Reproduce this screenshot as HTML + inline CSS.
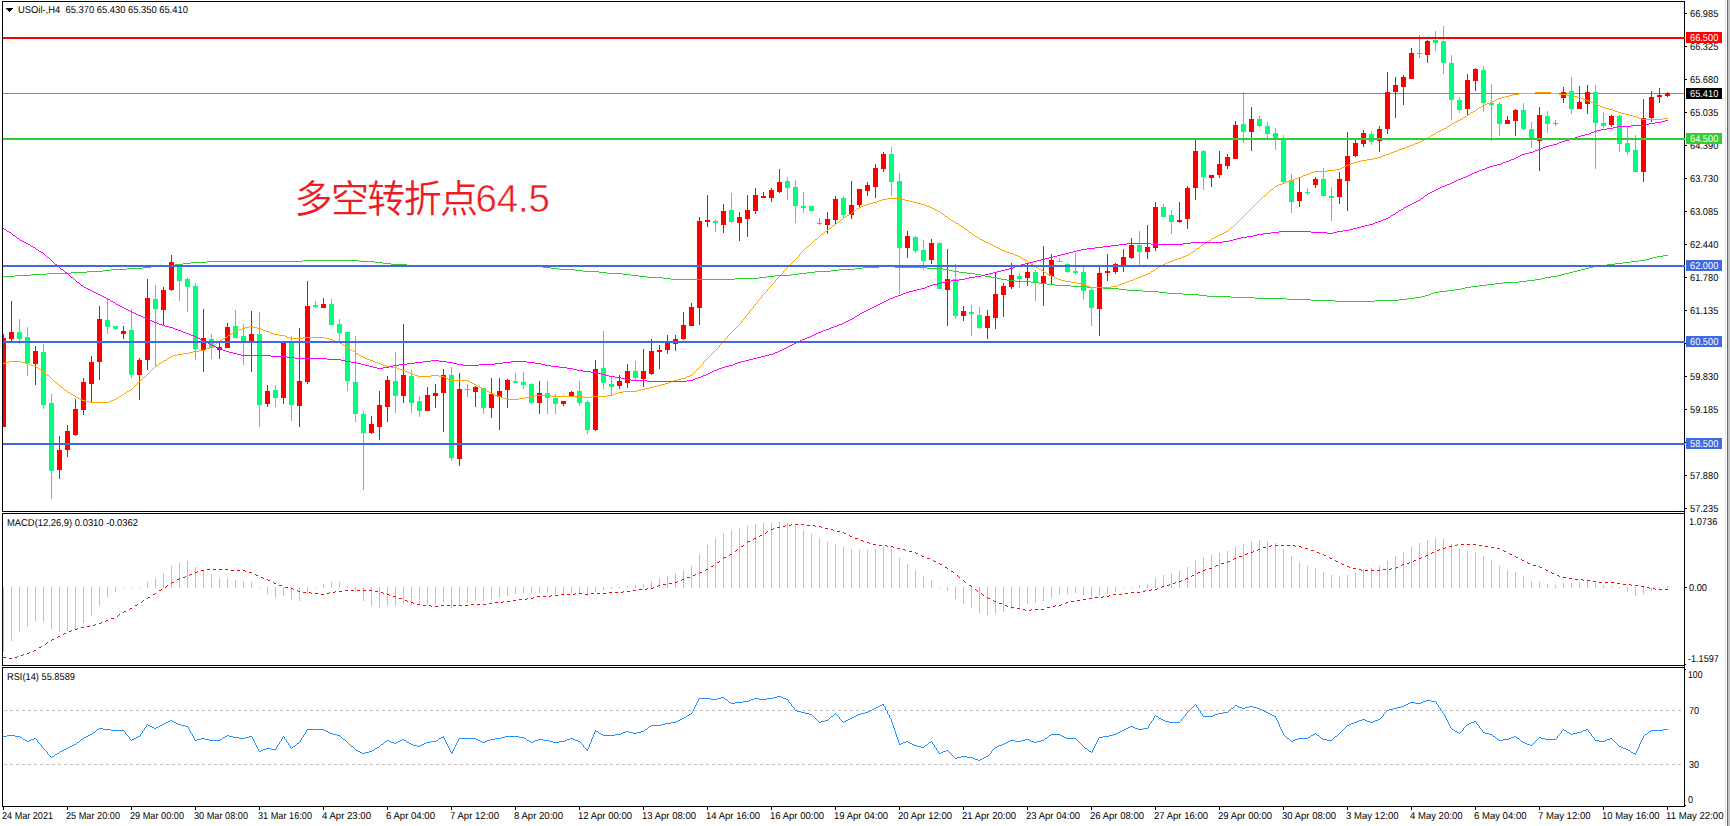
<!DOCTYPE html>
<html lang="zh"><head><meta charset="utf-8"><title>USOil H4</title>
<style>
html,body{margin:0;padding:0;background:#fff;}
body{width:1730px;height:826px;overflow:hidden;position:relative;font-family:"Liberation Sans","Noto Sans CJK SC",sans-serif;}
#c{position:absolute;left:0;top:0;width:1730px;height:826px;}
svg{position:absolute;left:0;top:0;display:block;}
.t{position:absolute;white-space:pre;font-size:10px;line-height:11px;height:11px;color:#000;transform-origin:0 0;text-rendering:geometricPrecision;}
.ax{left:1690px;}
.bx{position:absolute;left:1686px;width:36px;height:11px;}
.bx .t{color:#fff;left:4px;top:0;}
.tm{top:810px;}
#note{position:absolute;left:294.5px;top:172px;font-family:"Liberation Sans","Noto Sans CJK SC",sans-serif;font-weight:350;font-size:38px;line-height:54px;color:#ed1c24;white-space:pre;letter-spacing:-1.6px;}
#note span{font-weight:400;-webkit-text-stroke:0.5px #fff;font-size:38.5px;letter-spacing:-0.2px;margin-left:-1px;}
</style></head><body><div id="c">
<svg width="1730" height="826" viewBox="0 0 1730 826" shape-rendering="crispEdges">
<rect x="0" y="0" width="1730" height="826" fill="#fff"/>
<rect x="1725" y="0" width="1" height="826" fill="#e3e3e3"/>
<rect x="1727" y="0" width="1" height="826" fill="#696969"/>
<rect x="1728" y="0" width="2" height="826" fill="#c3c3c3"/>
<rect x="3" y="93" width="1681" height="1" fill="#778899"/>
<g>
<rect x="3" y="334" width="1" height="93" fill="#ff0000"/>
<rect x="3" y="338" width="3" height="89" fill="#ff0000"/>
<rect x="11" y="301" width="1" height="40" fill="#ff0000"/>
<rect x="9" y="332" width="5" height="7" fill="#ff0000"/>
<rect x="19" y="319" width="1" height="25" fill="#00ff7f"/>
<rect x="17" y="332" width="5" height="7" fill="#00ff7f"/>
<rect x="27" y="327" width="1" height="49" fill="#00ff7f"/>
<rect x="25" y="337" width="5" height="26" fill="#00ff7f"/>
<rect x="35" y="346" width="1" height="39" fill="#ff0000"/>
<rect x="33" y="351" width="5" height="13" fill="#ff0000"/>
<rect x="43" y="344" width="1" height="65" fill="#00ff7f"/>
<rect x="41" y="352" width="5" height="53" fill="#00ff7f"/>
<rect x="51" y="394" width="1" height="105" fill="#00ff7f"/>
<rect x="49" y="403" width="5" height="68" fill="#00ff7f"/>
<rect x="59" y="436" width="1" height="43" fill="#ff0000"/>
<rect x="57" y="450" width="5" height="20" fill="#ff0000"/>
<rect x="67" y="425" width="1" height="32" fill="#ff0000"/>
<rect x="65" y="431" width="5" height="19" fill="#ff0000"/>
<rect x="75" y="399" width="1" height="37" fill="#ff0000"/>
<rect x="73" y="409" width="5" height="26" fill="#ff0000"/>
<rect x="83" y="378" width="1" height="37" fill="#ff0000"/>
<rect x="81" y="382" width="5" height="28" fill="#ff0000"/>
<rect x="91" y="356" width="1" height="46" fill="#ff0000"/>
<rect x="89" y="362" width="5" height="22" fill="#ff0000"/>
<rect x="99" y="306" width="1" height="74" fill="#ff0000"/>
<rect x="97" y="319" width="5" height="43" fill="#ff0000"/>
<rect x="107" y="299" width="1" height="35" fill="#00ff7f"/>
<rect x="105" y="320" width="5" height="7" fill="#00ff7f"/>
<rect x="115" y="326" width="1" height="4" fill="#00ff7f"/>
<rect x="113" y="326" width="5" height="3" fill="#00ff7f"/>
<rect x="123" y="326" width="1" height="13" fill="#ff0000"/>
<rect x="121" y="331" width="5" height="3" fill="#ff0000"/>
<rect x="131" y="309" width="1" height="69" fill="#00ff7f"/>
<rect x="129" y="330" width="5" height="45" fill="#00ff7f"/>
<rect x="139" y="358" width="1" height="42" fill="#ff0000"/>
<rect x="137" y="360" width="5" height="15" fill="#ff0000"/>
<rect x="147" y="279" width="1" height="91" fill="#ff0000"/>
<rect x="145" y="298" width="5" height="62" fill="#ff0000"/>
<rect x="155" y="285" width="1" height="82" fill="#00ff7f"/>
<rect x="153" y="299" width="5" height="10" fill="#00ff7f"/>
<rect x="163" y="287" width="1" height="38" fill="#ff0000"/>
<rect x="161" y="290" width="5" height="20" fill="#ff0000"/>
<rect x="171" y="255" width="1" height="36" fill="#ff0000"/>
<rect x="169" y="262" width="5" height="28" fill="#ff0000"/>
<rect x="179" y="264" width="1" height="37" fill="#00ff7f"/>
<rect x="177" y="264" width="5" height="17" fill="#00ff7f"/>
<rect x="187" y="277" width="1" height="35" fill="#00ff7f"/>
<rect x="185" y="279" width="5" height="8" fill="#00ff7f"/>
<rect x="195" y="283" width="1" height="77" fill="#00ff7f"/>
<rect x="193" y="286" width="5" height="63" fill="#00ff7f"/>
<rect x="203" y="309" width="1" height="63" fill="#ff0000"/>
<rect x="201" y="338" width="5" height="12" fill="#ff0000"/>
<rect x="211" y="334" width="1" height="25" fill="#00ff7f"/>
<rect x="209" y="339" width="5" height="9" fill="#00ff7f"/>
<rect x="219" y="343" width="1" height="16" fill="#ff0000"/>
<rect x="217" y="347" width="5" height="3" fill="#ff0000"/>
<rect x="227" y="323" width="1" height="25" fill="#ff0000"/>
<rect x="225" y="327" width="5" height="21" fill="#ff0000"/>
<rect x="235" y="310" width="1" height="28" fill="#00ff7f"/>
<rect x="233" y="326" width="5" height="12" fill="#00ff7f"/>
<rect x="243" y="324" width="1" height="41" fill="#00ff7f"/>
<rect x="241" y="336" width="5" height="6" fill="#00ff7f"/>
<rect x="251" y="311" width="1" height="61" fill="#ff0000"/>
<rect x="249" y="334" width="5" height="8" fill="#ff0000"/>
<rect x="259" y="312" width="1" height="115" fill="#00ff7f"/>
<rect x="257" y="334" width="5" height="71" fill="#00ff7f"/>
<rect x="267" y="385" width="1" height="22" fill="#ff0000"/>
<rect x="265" y="391" width="5" height="13" fill="#ff0000"/>
<rect x="275" y="385" width="1" height="22" fill="#00ff7f"/>
<rect x="273" y="390" width="5" height="8" fill="#00ff7f"/>
<rect x="283" y="343" width="1" height="61" fill="#ff0000"/>
<rect x="281" y="343" width="5" height="55" fill="#ff0000"/>
<rect x="291" y="336" width="1" height="85" fill="#00ff7f"/>
<rect x="289" y="343" width="5" height="62" fill="#00ff7f"/>
<rect x="299" y="328" width="1" height="99" fill="#ff0000"/>
<rect x="297" y="381" width="5" height="25" fill="#ff0000"/>
<rect x="307" y="281" width="1" height="103" fill="#ff0000"/>
<rect x="305" y="306" width="5" height="76" fill="#ff0000"/>
<rect x="315" y="301" width="1" height="7" fill="#00ff7f"/>
<rect x="313" y="305" width="5" height="2" fill="#00ff7f"/>
<rect x="323" y="298" width="1" height="10" fill="#ff0000"/>
<rect x="321" y="304" width="5" height="4" fill="#ff0000"/>
<rect x="331" y="299" width="1" height="26" fill="#00ff7f"/>
<rect x="329" y="304" width="5" height="21" fill="#00ff7f"/>
<rect x="339" y="319" width="1" height="22" fill="#00ff7f"/>
<rect x="337" y="324" width="5" height="9" fill="#00ff7f"/>
<rect x="347" y="332" width="1" height="59" fill="#00ff7f"/>
<rect x="345" y="332" width="5" height="49" fill="#00ff7f"/>
<rect x="355" y="336" width="1" height="86" fill="#00ff7f"/>
<rect x="353" y="382" width="5" height="32" fill="#00ff7f"/>
<rect x="363" y="411" width="1" height="79" fill="#00ff7f"/>
<rect x="361" y="414" width="5" height="19" fill="#00ff7f"/>
<rect x="371" y="416" width="1" height="18" fill="#ff0000"/>
<rect x="369" y="424" width="5" height="9" fill="#ff0000"/>
<rect x="379" y="391" width="1" height="49" fill="#ff0000"/>
<rect x="377" y="405" width="5" height="22" fill="#ff0000"/>
<rect x="387" y="376" width="1" height="46" fill="#ff0000"/>
<rect x="385" y="380" width="5" height="27" fill="#ff0000"/>
<rect x="395" y="352" width="1" height="61" fill="#00ff7f"/>
<rect x="393" y="381" width="5" height="15" fill="#00ff7f"/>
<rect x="403" y="324" width="1" height="79" fill="#ff0000"/>
<rect x="401" y="375" width="5" height="21" fill="#ff0000"/>
<rect x="411" y="370" width="1" height="43" fill="#00ff7f"/>
<rect x="409" y="376" width="5" height="27" fill="#00ff7f"/>
<rect x="419" y="396" width="1" height="21" fill="#00ff7f"/>
<rect x="417" y="401" width="5" height="10" fill="#00ff7f"/>
<rect x="427" y="387" width="1" height="24" fill="#ff0000"/>
<rect x="425" y="395" width="5" height="16" fill="#ff0000"/>
<rect x="435" y="384" width="1" height="24" fill="#ff0000"/>
<rect x="433" y="393" width="5" height="3" fill="#ff0000"/>
<rect x="443" y="369" width="1" height="63" fill="#ff0000"/>
<rect x="441" y="375" width="5" height="18" fill="#ff0000"/>
<rect x="451" y="367" width="1" height="94" fill="#00ff7f"/>
<rect x="449" y="375" width="5" height="83" fill="#00ff7f"/>
<rect x="459" y="373" width="1" height="93" fill="#ff0000"/>
<rect x="457" y="389" width="5" height="70" fill="#ff0000"/>
<rect x="467" y="384" width="1" height="13" fill="#00ff00"/>
<rect x="465" y="389" width="5" height="1" fill="#00ff00"/>
<rect x="475" y="386" width="1" height="21" fill="#ff0000"/>
<rect x="473" y="387" width="5" height="5" fill="#ff0000"/>
<rect x="483" y="388" width="1" height="26" fill="#00ff7f"/>
<rect x="481" y="388" width="5" height="20" fill="#00ff7f"/>
<rect x="491" y="378" width="1" height="40" fill="#ff0000"/>
<rect x="489" y="394" width="5" height="14" fill="#ff0000"/>
<rect x="499" y="378" width="1" height="52" fill="#ff0000"/>
<rect x="497" y="391" width="5" height="6" fill="#ff0000"/>
<rect x="507" y="379" width="1" height="29" fill="#ff0000"/>
<rect x="505" y="380" width="5" height="10" fill="#ff0000"/>
<rect x="515" y="373" width="1" height="10" fill="#00ff7f"/>
<rect x="513" y="381" width="5" height="2" fill="#00ff7f"/>
<rect x="523" y="372" width="1" height="17" fill="#00ff7f"/>
<rect x="521" y="382" width="5" height="3" fill="#00ff7f"/>
<rect x="531" y="383" width="1" height="21" fill="#00ff7f"/>
<rect x="529" y="384" width="5" height="19" fill="#00ff7f"/>
<rect x="539" y="381" width="1" height="33" fill="#ff0000"/>
<rect x="537" y="393" width="5" height="10" fill="#ff0000"/>
<rect x="547" y="381" width="1" height="33" fill="#00ff7f"/>
<rect x="545" y="393" width="5" height="5" fill="#00ff7f"/>
<rect x="555" y="394" width="1" height="20" fill="#00ff7f"/>
<rect x="553" y="398" width="5" height="6" fill="#00ff7f"/>
<rect x="563" y="401" width="1" height="5" fill="#ff0000"/>
<rect x="561" y="401" width="5" height="3" fill="#ff0000"/>
<rect x="571" y="391" width="1" height="5" fill="#ff0000"/>
<rect x="569" y="392" width="5" height="4" fill="#ff0000"/>
<rect x="579" y="381" width="1" height="25" fill="#00ff7f"/>
<rect x="577" y="391" width="5" height="12" fill="#00ff7f"/>
<rect x="587" y="400" width="1" height="34" fill="#00ff7f"/>
<rect x="585" y="402" width="5" height="28" fill="#00ff7f"/>
<rect x="595" y="360" width="1" height="71" fill="#ff0000"/>
<rect x="593" y="369" width="5" height="61" fill="#ff0000"/>
<rect x="603" y="331" width="1" height="58" fill="#00ff7f"/>
<rect x="601" y="368" width="5" height="15" fill="#00ff7f"/>
<rect x="611" y="377" width="1" height="19" fill="#00ff7f"/>
<rect x="609" y="384" width="5" height="3" fill="#00ff7f"/>
<rect x="619" y="375" width="1" height="14" fill="#ff0000"/>
<rect x="617" y="381" width="5" height="5" fill="#ff0000"/>
<rect x="627" y="364" width="1" height="24" fill="#ff0000"/>
<rect x="625" y="371" width="5" height="12" fill="#ff0000"/>
<rect x="635" y="361" width="1" height="19" fill="#00ff7f"/>
<rect x="633" y="371" width="5" height="7" fill="#00ff7f"/>
<rect x="643" y="349" width="1" height="38" fill="#ff0000"/>
<rect x="641" y="371" width="5" height="8" fill="#ff0000"/>
<rect x="651" y="339" width="1" height="36" fill="#ff0000"/>
<rect x="649" y="351" width="5" height="23" fill="#ff0000"/>
<rect x="659" y="345" width="1" height="24" fill="#ff0000"/>
<rect x="657" y="350" width="5" height="2" fill="#ff0000"/>
<rect x="667" y="335" width="1" height="19" fill="#ff0000"/>
<rect x="665" y="343" width="5" height="7" fill="#ff0000"/>
<rect x="675" y="335" width="1" height="16" fill="#ff0000"/>
<rect x="673" y="339" width="5" height="5" fill="#ff0000"/>
<rect x="683" y="312" width="1" height="28" fill="#ff0000"/>
<rect x="681" y="325" width="5" height="14" fill="#ff0000"/>
<rect x="691" y="303" width="1" height="23" fill="#ff0000"/>
<rect x="689" y="307" width="5" height="19" fill="#ff0000"/>
<rect x="699" y="217" width="1" height="108" fill="#ff0000"/>
<rect x="697" y="221" width="5" height="87" fill="#ff0000"/>
<rect x="707" y="195" width="1" height="32" fill="#ff0000"/>
<rect x="705" y="220" width="5" height="2" fill="#ff0000"/>
<rect x="715" y="219" width="1" height="13" fill="#00ff7f"/>
<rect x="713" y="221" width="5" height="2" fill="#00ff7f"/>
<rect x="723" y="204" width="1" height="29" fill="#ff0000"/>
<rect x="721" y="211" width="5" height="14" fill="#ff0000"/>
<rect x="731" y="193" width="1" height="30" fill="#00ff7f"/>
<rect x="729" y="210" width="5" height="12" fill="#00ff7f"/>
<rect x="739" y="212" width="1" height="29" fill="#ff0000"/>
<rect x="737" y="217" width="5" height="6" fill="#ff0000"/>
<rect x="747" y="195" width="1" height="42" fill="#ff0000"/>
<rect x="745" y="210" width="5" height="9" fill="#ff0000"/>
<rect x="755" y="188" width="1" height="26" fill="#ff0000"/>
<rect x="753" y="195" width="5" height="16" fill="#ff0000"/>
<rect x="763" y="192" width="1" height="6" fill="#ff0000"/>
<rect x="761" y="196" width="5" height="2" fill="#ff0000"/>
<rect x="771" y="188" width="1" height="14" fill="#ff0000"/>
<rect x="769" y="190" width="5" height="8" fill="#ff0000"/>
<rect x="779" y="169" width="1" height="24" fill="#ff0000"/>
<rect x="777" y="182" width="5" height="10" fill="#ff0000"/>
<rect x="787" y="177" width="1" height="23" fill="#00ff7f"/>
<rect x="785" y="181" width="5" height="7" fill="#00ff7f"/>
<rect x="795" y="180" width="1" height="43" fill="#00ff7f"/>
<rect x="793" y="187" width="5" height="19" fill="#00ff7f"/>
<rect x="803" y="192" width="1" height="21" fill="#00ff7f"/>
<rect x="801" y="206" width="5" height="2" fill="#00ff7f"/>
<rect x="811" y="206" width="1" height="5" fill="#00ff7f"/>
<rect x="809" y="206" width="5" height="5" fill="#00ff7f"/>
<rect x="819" y="218" width="1" height="7" fill="#00ff00"/>
<rect x="817" y="223" width="5" height="1" fill="#00ff00"/>
<rect x="827" y="212" width="1" height="22" fill="#ff0000"/>
<rect x="825" y="219" width="5" height="6" fill="#ff0000"/>
<rect x="835" y="196" width="1" height="28" fill="#ff0000"/>
<rect x="833" y="199" width="5" height="21" fill="#ff0000"/>
<rect x="843" y="196" width="1" height="22" fill="#00ff7f"/>
<rect x="841" y="198" width="5" height="17" fill="#00ff7f"/>
<rect x="851" y="181" width="1" height="38" fill="#ff0000"/>
<rect x="849" y="205" width="5" height="10" fill="#ff0000"/>
<rect x="859" y="189" width="1" height="18" fill="#ff0000"/>
<rect x="857" y="189" width="5" height="16" fill="#ff0000"/>
<rect x="867" y="182" width="1" height="14" fill="#ff0000"/>
<rect x="865" y="185" width="5" height="6" fill="#ff0000"/>
<rect x="875" y="164" width="1" height="34" fill="#ff0000"/>
<rect x="873" y="168" width="5" height="19" fill="#ff0000"/>
<rect x="883" y="152" width="1" height="20" fill="#ff0000"/>
<rect x="881" y="154" width="5" height="15" fill="#ff0000"/>
<rect x="891" y="147" width="1" height="49" fill="#00ff7f"/>
<rect x="889" y="154" width="5" height="28" fill="#00ff7f"/>
<rect x="899" y="173" width="1" height="121" fill="#00ff7f"/>
<rect x="897" y="181" width="5" height="67" fill="#00ff7f"/>
<rect x="907" y="231" width="1" height="27" fill="#ff0000"/>
<rect x="905" y="236" width="5" height="12" fill="#ff0000"/>
<rect x="915" y="236" width="1" height="17" fill="#00ff7f"/>
<rect x="913" y="237" width="5" height="14" fill="#00ff7f"/>
<rect x="923" y="240" width="1" height="30" fill="#00ff7f"/>
<rect x="921" y="250" width="5" height="11" fill="#00ff7f"/>
<rect x="931" y="239" width="1" height="25" fill="#ff0000"/>
<rect x="929" y="243" width="5" height="17" fill="#ff0000"/>
<rect x="939" y="242" width="1" height="47" fill="#00ff7f"/>
<rect x="937" y="243" width="5" height="46" fill="#00ff7f"/>
<rect x="947" y="249" width="1" height="77" fill="#ff0000"/>
<rect x="945" y="279" width="5" height="11" fill="#ff0000"/>
<rect x="955" y="264" width="1" height="55" fill="#00ff7f"/>
<rect x="953" y="279" width="5" height="37" fill="#00ff7f"/>
<rect x="963" y="306" width="1" height="15" fill="#ff0000"/>
<rect x="961" y="311" width="5" height="5" fill="#ff0000"/>
<rect x="971" y="305" width="1" height="31" fill="#00ff7f"/>
<rect x="969" y="312" width="5" height="2" fill="#00ff7f"/>
<rect x="979" y="307" width="1" height="22" fill="#00ff7f"/>
<rect x="977" y="315" width="5" height="13" fill="#00ff7f"/>
<rect x="987" y="310" width="1" height="29" fill="#ff0000"/>
<rect x="985" y="316" width="5" height="12" fill="#ff0000"/>
<rect x="995" y="273" width="1" height="56" fill="#ff0000"/>
<rect x="993" y="294" width="5" height="24" fill="#ff0000"/>
<rect x="1003" y="283" width="1" height="34" fill="#ff0000"/>
<rect x="1001" y="286" width="5" height="9" fill="#ff0000"/>
<rect x="1011" y="263" width="1" height="26" fill="#ff0000"/>
<rect x="1009" y="275" width="5" height="12" fill="#ff0000"/>
<rect x="1019" y="273" width="1" height="15" fill="#00ff7f"/>
<rect x="1017" y="276" width="5" height="3" fill="#00ff7f"/>
<rect x="1027" y="263" width="1" height="23" fill="#ff0000"/>
<rect x="1025" y="272" width="5" height="6" fill="#ff0000"/>
<rect x="1035" y="270" width="1" height="31" fill="#00ff7f"/>
<rect x="1033" y="272" width="5" height="10" fill="#00ff7f"/>
<rect x="1043" y="246" width="1" height="60" fill="#ff0000"/>
<rect x="1041" y="276" width="5" height="7" fill="#ff0000"/>
<rect x="1051" y="254" width="1" height="30" fill="#ff0000"/>
<rect x="1049" y="260" width="5" height="16" fill="#ff0000"/>
<rect x="1059" y="258" width="1" height="4" fill="#00ff7f"/>
<rect x="1057" y="261" width="5" height="1" fill="#00ff7f"/>
<rect x="1067" y="263" width="1" height="10" fill="#00ff7f"/>
<rect x="1065" y="264" width="5" height="8" fill="#00ff7f"/>
<rect x="1075" y="253" width="1" height="22" fill="#00ff7f"/>
<rect x="1073" y="271" width="5" height="2" fill="#00ff7f"/>
<rect x="1083" y="267" width="1" height="33" fill="#00ff7f"/>
<rect x="1081" y="272" width="5" height="19" fill="#00ff7f"/>
<rect x="1091" y="288" width="1" height="38" fill="#00ff7f"/>
<rect x="1089" y="290" width="5" height="18" fill="#00ff7f"/>
<rect x="1099" y="267" width="1" height="69" fill="#ff0000"/>
<rect x="1097" y="273" width="5" height="36" fill="#ff0000"/>
<rect x="1107" y="254" width="1" height="27" fill="#ff0000"/>
<rect x="1105" y="271" width="5" height="2" fill="#ff0000"/>
<rect x="1115" y="263" width="1" height="11" fill="#ff0000"/>
<rect x="1113" y="264" width="5" height="8" fill="#ff0000"/>
<rect x="1123" y="249" width="1" height="23" fill="#ff0000"/>
<rect x="1121" y="257" width="5" height="9" fill="#ff0000"/>
<rect x="1131" y="238" width="1" height="21" fill="#ff0000"/>
<rect x="1129" y="245" width="5" height="13" fill="#ff0000"/>
<rect x="1139" y="231" width="1" height="34" fill="#00ff7f"/>
<rect x="1137" y="245" width="5" height="7" fill="#00ff7f"/>
<rect x="1147" y="225" width="1" height="34" fill="#ff0000"/>
<rect x="1145" y="247" width="5" height="5" fill="#ff0000"/>
<rect x="1155" y="202" width="1" height="49" fill="#ff0000"/>
<rect x="1153" y="207" width="5" height="41" fill="#ff0000"/>
<rect x="1163" y="204" width="1" height="13" fill="#00ff7f"/>
<rect x="1161" y="207" width="5" height="10" fill="#00ff7f"/>
<rect x="1171" y="210" width="1" height="24" fill="#00ff7f"/>
<rect x="1169" y="215" width="5" height="7" fill="#00ff7f"/>
<rect x="1179" y="202" width="1" height="21" fill="#ff0000"/>
<rect x="1177" y="220" width="5" height="2" fill="#ff0000"/>
<rect x="1187" y="186" width="1" height="43" fill="#ff0000"/>
<rect x="1185" y="188" width="5" height="31" fill="#ff0000"/>
<rect x="1195" y="140" width="1" height="60" fill="#ff0000"/>
<rect x="1193" y="151" width="5" height="37" fill="#ff0000"/>
<rect x="1203" y="150" width="1" height="40" fill="#00ff7f"/>
<rect x="1201" y="151" width="5" height="26" fill="#00ff7f"/>
<rect x="1211" y="175" width="1" height="12" fill="#ff0000"/>
<rect x="1209" y="175" width="5" height="3" fill="#ff0000"/>
<rect x="1219" y="151" width="1" height="27" fill="#ff0000"/>
<rect x="1217" y="164" width="5" height="11" fill="#ff0000"/>
<rect x="1227" y="154" width="1" height="15" fill="#ff0000"/>
<rect x="1225" y="157" width="5" height="9" fill="#ff0000"/>
<rect x="1235" y="121" width="1" height="38" fill="#ff0000"/>
<rect x="1233" y="125" width="5" height="34" fill="#ff0000"/>
<rect x="1243" y="92" width="1" height="51" fill="#00ff7f"/>
<rect x="1241" y="124" width="5" height="8" fill="#00ff7f"/>
<rect x="1251" y="107" width="1" height="44" fill="#ff0000"/>
<rect x="1249" y="119" width="5" height="13" fill="#ff0000"/>
<rect x="1259" y="116" width="1" height="11" fill="#00ff7f"/>
<rect x="1257" y="119" width="5" height="7" fill="#00ff7f"/>
<rect x="1267" y="122" width="1" height="16" fill="#00ff7f"/>
<rect x="1265" y="126" width="5" height="8" fill="#00ff7f"/>
<rect x="1275" y="128" width="1" height="22" fill="#00ff7f"/>
<rect x="1273" y="133" width="5" height="6" fill="#00ff7f"/>
<rect x="1283" y="135" width="1" height="49" fill="#00ff7f"/>
<rect x="1281" y="139" width="5" height="43" fill="#00ff7f"/>
<rect x="1291" y="174" width="1" height="39" fill="#00ff7f"/>
<rect x="1289" y="180" width="5" height="22" fill="#00ff7f"/>
<rect x="1299" y="178" width="1" height="29" fill="#ff0000"/>
<rect x="1297" y="192" width="5" height="9" fill="#ff0000"/>
<rect x="1307" y="188" width="1" height="7" fill="#00ff7f"/>
<rect x="1305" y="192" width="5" height="1" fill="#00ff7f"/>
<rect x="1315" y="177" width="1" height="11" fill="#ff0000"/>
<rect x="1313" y="179" width="5" height="6" fill="#ff0000"/>
<rect x="1323" y="168" width="1" height="28" fill="#00ff7f"/>
<rect x="1321" y="179" width="5" height="17" fill="#00ff7f"/>
<rect x="1331" y="187" width="1" height="34" fill="#00ff7f"/>
<rect x="1329" y="196" width="5" height="2" fill="#00ff7f"/>
<rect x="1339" y="172" width="1" height="32" fill="#ff0000"/>
<rect x="1337" y="179" width="5" height="18" fill="#ff0000"/>
<rect x="1347" y="132" width="1" height="79" fill="#ff0000"/>
<rect x="1345" y="156" width="5" height="25" fill="#ff0000"/>
<rect x="1355" y="140" width="1" height="17" fill="#ff0000"/>
<rect x="1353" y="143" width="5" height="13" fill="#ff0000"/>
<rect x="1363" y="130" width="1" height="17" fill="#ff0000"/>
<rect x="1361" y="133" width="5" height="11" fill="#ff0000"/>
<rect x="1371" y="131" width="1" height="14" fill="#00ff7f"/>
<rect x="1369" y="134" width="5" height="8" fill="#00ff7f"/>
<rect x="1379" y="126" width="1" height="26" fill="#ff0000"/>
<rect x="1377" y="129" width="5" height="12" fill="#ff0000"/>
<rect x="1387" y="72" width="1" height="62" fill="#ff0000"/>
<rect x="1385" y="92" width="5" height="37" fill="#ff0000"/>
<rect x="1395" y="77" width="1" height="41" fill="#ff0000"/>
<rect x="1393" y="85" width="5" height="7" fill="#ff0000"/>
<rect x="1403" y="75" width="1" height="30" fill="#ff0000"/>
<rect x="1401" y="77" width="5" height="10" fill="#ff0000"/>
<rect x="1411" y="48" width="1" height="31" fill="#ff0000"/>
<rect x="1409" y="53" width="5" height="26" fill="#ff0000"/>
<rect x="1419" y="35" width="1" height="23" fill="#00ff00"/>
<rect x="1417" y="53" width="5" height="1" fill="#00ff00"/>
<rect x="1427" y="40" width="1" height="23" fill="#ff0000"/>
<rect x="1425" y="41" width="5" height="14" fill="#ff0000"/>
<rect x="1435" y="31" width="1" height="20" fill="#00ff7f"/>
<rect x="1433" y="40" width="5" height="3" fill="#00ff7f"/>
<rect x="1443" y="26" width="1" height="48" fill="#00ff7f"/>
<rect x="1441" y="41" width="5" height="22" fill="#00ff7f"/>
<rect x="1451" y="55" width="1" height="65" fill="#00ff7f"/>
<rect x="1449" y="63" width="5" height="37" fill="#00ff7f"/>
<rect x="1459" y="97" width="1" height="16" fill="#00ff7f"/>
<rect x="1457" y="100" width="5" height="10" fill="#00ff7f"/>
<rect x="1467" y="74" width="1" height="42" fill="#ff0000"/>
<rect x="1465" y="80" width="5" height="29" fill="#ff0000"/>
<rect x="1475" y="68" width="1" height="23" fill="#ff0000"/>
<rect x="1473" y="69" width="5" height="12" fill="#ff0000"/>
<rect x="1483" y="66" width="1" height="46" fill="#00ff7f"/>
<rect x="1481" y="70" width="5" height="33" fill="#00ff7f"/>
<rect x="1491" y="84" width="1" height="57" fill="#00ff7f"/>
<rect x="1489" y="103" width="5" height="2" fill="#00ff7f"/>
<rect x="1499" y="102" width="1" height="34" fill="#00ff7f"/>
<rect x="1497" y="104" width="5" height="20" fill="#00ff7f"/>
<rect x="1507" y="116" width="1" height="8" fill="#ff0000"/>
<rect x="1505" y="120" width="5" height="4" fill="#ff0000"/>
<rect x="1515" y="109" width="1" height="27" fill="#ff0000"/>
<rect x="1513" y="110" width="5" height="11" fill="#ff0000"/>
<rect x="1523" y="103" width="1" height="27" fill="#00ff7f"/>
<rect x="1521" y="110" width="5" height="19" fill="#00ff7f"/>
<rect x="1531" y="122" width="1" height="26" fill="#00ff7f"/>
<rect x="1529" y="129" width="5" height="11" fill="#00ff7f"/>
<rect x="1539" y="107" width="1" height="64" fill="#ff0000"/>
<rect x="1537" y="115" width="5" height="26" fill="#ff0000"/>
<rect x="1547" y="111" width="1" height="22" fill="#00ff7f"/>
<rect x="1545" y="116" width="5" height="8" fill="#00ff7f"/>
<rect x="1555" y="120" width="1" height="6" fill="#00ff00"/>
<rect x="1553" y="123" width="5" height="1" fill="#00ff00"/>
<rect x="1563" y="87" width="1" height="16" fill="#ff0000"/>
<rect x="1561" y="92" width="5" height="6" fill="#ff0000"/>
<rect x="1571" y="77" width="1" height="37" fill="#00ff7f"/>
<rect x="1569" y="91" width="5" height="18" fill="#00ff7f"/>
<rect x="1579" y="86" width="1" height="23" fill="#ff0000"/>
<rect x="1577" y="102" width="5" height="7" fill="#ff0000"/>
<rect x="1587" y="85" width="1" height="29" fill="#ff0000"/>
<rect x="1585" y="92" width="5" height="12" fill="#ff0000"/>
<rect x="1595" y="85" width="1" height="84" fill="#00ff7f"/>
<rect x="1593" y="92" width="5" height="31" fill="#00ff7f"/>
<rect x="1603" y="112" width="1" height="16" fill="#00ff7f"/>
<rect x="1601" y="123" width="5" height="3" fill="#00ff7f"/>
<rect x="1611" y="115" width="1" height="12" fill="#ff0000"/>
<rect x="1609" y="116" width="5" height="9" fill="#ff0000"/>
<rect x="1619" y="115" width="1" height="37" fill="#00ff7f"/>
<rect x="1617" y="116" width="5" height="28" fill="#00ff7f"/>
<rect x="1627" y="127" width="1" height="28" fill="#00ff7f"/>
<rect x="1625" y="143" width="5" height="9" fill="#00ff7f"/>
<rect x="1635" y="135" width="1" height="37" fill="#00ff7f"/>
<rect x="1633" y="150" width="5" height="22" fill="#00ff7f"/>
<rect x="1643" y="99" width="1" height="83" fill="#ff0000"/>
<rect x="1641" y="118" width="5" height="54" fill="#ff0000"/>
<rect x="1651" y="91" width="1" height="31" fill="#ff0000"/>
<rect x="1649" y="97" width="5" height="21" fill="#ff0000"/>
<rect x="1659" y="88" width="1" height="15" fill="#ff0000"/>
<rect x="1657" y="95" width="5" height="2" fill="#ff0000"/>
<rect x="1667" y="92" width="1" height="5" fill="#ff0000"/>
<rect x="1665" y="93" width="5" height="3" fill="#ff0000"/>
</g>
<path d="M127 268.5h16M551 268.5h8M855 268.5h8M927 268.5h16M1585 268.5h4M303 260.5h56M1639 260.5h6M175 264.5h8M391 264.5h16M1607 264.5h8M143 267.5h8M543 267.5h8M863 267.5h16M895 267.5h32M1589 267.5h4M71 272.5h16M599 272.5h8M807 272.5h8M959 272.5h8M1569 272.5h4M103 270.5h8M575 270.5h8M831 270.5h8M949 270.5h4M1577 270.5h4M1143 291.5h16M1439 291.5h8M1231 297.5h24M1415 297.5h6M207 261.5h96M359 261.5h16M1631 261.5h8M671 279.5h64M1001 279.5h6M1535 279.5h6M47 273.5h24M607 273.5h16M799 273.5h8M967 273.5h8M1565 273.5h4M15 275.5h16M631 275.5h8M775 275.5h16M981 275.5h4M1557 275.5h4M1087 287.5h16M1465 287.5h6M1007 280.5h8M1527 280.5h8M663 278.5h8M735 278.5h24M997 278.5h4M1541 278.5h4M167 265.5h8M407 265.5h72M1599 265.5h8M1015 281.5h16M1519 281.5h8M111 269.5h16M559 269.5h16M839 269.5h16M943 269.5h6M1581 269.5h4M31 274.5h16M623 274.5h8M791 274.5h8M975 274.5h6M1561 274.5h4M1039 283.5h8M1495 283.5h8M1071 286.5h16M1471 286.5h8M1653 257.5h4M183 263.5h8M383 263.5h8M1615 263.5h8M1207 296.5h24M1421 296.5h4M1335 301.5h40M87 271.5h16M583 271.5h16M815 271.5h16M953 271.5h6M1573 271.5h4M1159 292.5h8M1434 292.5h5M647 277.5h16M759 277.5h8M991 277.5h6M1545 277.5h6M1127 290.5h16M1447 290.5h8M151 266.5h16M479 266.5h64M879 266.5h16M1593 266.5h6M1047 284.5h8M1487 284.5h8M1311 300.5h24M1375 300.5h24M3 276.5h12M639 276.5h8M767 276.5h8M985 276.5h6M1551 276.5h6M1103 288.5h16M1461 288.5h4M1287 299.5h24M1399 299.5h8M191 262.5h16M375 262.5h8M1623 262.5h8M1255 298.5h32M1407 298.5h8M1183 294.5h16M1429 294.5h2M1657 256.5h6M1199 295.5h8M1425 295.5h4M1119 289.5h8M1455 289.5h6M1663 255.5h5M1055 285.5h16M1479 285.5h8M1031 282.5h8M1503 282.5h16M1167 293.5h16M1431 293.5h3M1649 258.5h4M1645 259.5h4" fill="none" stroke="#32cd32" stroke-width="1"/>
<path d="M31 365.5h3M156 365.5h2M383 365.5h3M472 383.5h2M665 383.5h4M1357 161.5h4M847 215.5h2M80 399.5h2M114 399.5h2M506 399.5h13M1496 99.5h2M1583 99.5h3M825 231.5h2M1226 231.5h2M5 362.5h4M21 362.5h4M161 362.5h2M375 362.5h3M1090 287.5h21M124 393.5h2M491 393.5h2M615 393.5h3M335 341.5h3M1413 144.5h2M1165 263.5h2M119 396.5h2M498 396.5h3M529 396.5h6M551 396.5h32M591 396.5h16M821 234.5h2M972 234.5h2M1220 234.5h2M1277 185.5h2M448 379.5h2M677 379.5h4M89 402.5h20M1065 281.5h6M1127 281.5h3M1373 158.5h4M882 199.5h5M901 199.5h4M1309 173.5h2M225 337.5h2M287 337.5h3M303 337.5h22M1085 285.5h2M1117 285.5h2M1431 135.5h2M1002 250.5h3M228 335.5h2M279 335.5h6M807 246.5h2M994 246.5h2M36 367.5h2M391 367.5h6M78 398.5h2M116 398.5h2M503 398.5h3M519 398.5h6M1023 259.5h2M1175 259.5h3M996 247.5h2M857 208.5h2M932 208.5h2M988 243.5h2M1204 243.5h2M961 226.5h2M815 239.5h2M980 239.5h2M242 328.5h3M257 328.5h4M934 209.5h2M34 366.5h2M386 366.5h5M127 391.5h2M487 391.5h2M623 391.5h14M55 382.5h2M470 382.5h2M669 382.5h2M1535 92.5h16M1460 119.5h2M1642 119.5h21M1058 279.5h3M1133 279.5h2M936 210.5h2M1000 249.5h2M9 361.5h12M373 361.5h2M183 353.5h6M356 353.5h2M1498 98.5h3M1581 98.5h2M476 385.5h2M657 385.5h4M213 345.5h2M343 345.5h2M177 354.5h6M1311 172.5h3M877 201.5h2M909 201.5h4M1020 257.5h2M1181 257.5h2M482 388.5h2M645 388.5h4M879 200.5h3M905 200.5h4M405 371.5h2M1509 95.5h4M1567 95.5h6M1473 111.5h2M1615 111.5h3M1077 283.5h4M1122 283.5h3M1335 169.5h5M1471 112.5h2M1618 112.5h3M1301 176.5h2M249 326.5h4M975 236.5h2M1216 236.5h2M1044 272.5h2M47 375.5h2M415 375.5h3M431 375.5h8M690 375.5h2M1476 109.5h2M1609 109.5h4M1327 170.5h8M948 218.5h2M1295 178.5h3M1424 139.5h2M1048 274.5h2M1146 274.5h2M841 219.5h2M1061 280.5h4M1130 280.5h3M73 395.5h2M121 395.5h2M495 395.5h3M535 395.5h16M607 395.5h6M76 397.5h2M501 397.5h2M525 397.5h4M583 397.5h8M1054 277.5h2M1138 277.5h3M1046 273.5h2M1148 273.5h2M1039 269.5h2M345 346.5h2M468 381.5h2M671 381.5h3M239 329.5h3M261 329.5h2M1519 93.5h16M1551 93.5h8M285 336.5h2M953 221.5h2M887 198.5h14M863 205.5h3M925 205.5h2M1081 284.5h4M1119 284.5h3M167 358.5h2M365 358.5h2M1394 151.5h3M1426 138.5h2M223 338.5h2M290 338.5h13M325 338.5h4M193 351.5h6M353 351.5h2M945 216.5h2M1033 265.5h2M1161 265.5h2M1287 181.5h3M418 376.5h13M439 376.5h5M687 376.5h3M1159 266.5h2M340 343.5h2M1487 103.5h3M1594 103.5h2M220 340.5h2M333 340.5h2M484 389.5h2M641 389.5h4M1156 268.5h2M450 380.5h18M674 380.5h3M1015 255.5h3M1186 255.5h2M199 350.5h6M351 350.5h2M169 357.5h2M363 357.5h2M1367 159.5h6M39 369.5h2M399 369.5h3M446 378.5h2M681 378.5h4M1452 123.5h2M61 387.5h2M480 387.5h2M649 387.5h4M965 229.5h2M1071 282.5h6M1125 282.5h2M833 225.5h2M959 225.5h2M1449 125.5h2M164 360.5h2M370 360.5h3M171 356.5h2M361 356.5h2M849 214.5h2M956 223.5h2M1463 117.5h2M1637 117.5h2M1279 184.5h3M1344 166.5h2M1513 94.5h6M1559 94.5h8M65 390.5h2M129 390.5h2M637 390.5h4M1605 108.5h4M1361 160.5h6M205 349.5h2M1505 96.5h4M1573 96.5h4M837 222.5h2M1218 235.5h2M1087 286.5h3M1111 286.5h6M1052 276.5h2M1141 276.5h2M1314 171.5h13M1005 251.5h2M1193 251.5h2M1501 97.5h4M1577 97.5h4M478 386.5h2M653 386.5h4M1639 118.5h3M1663 118.5h5M873 202.5h4M913 202.5h4M1346 165.5h3M1018 256.5h2M1183 256.5h3M3 363.5h2M25 363.5h4M159 363.5h2M378 363.5h3M1405 147.5h2M71 394.5h2M493 394.5h2M613 394.5h2M969 232.5h2M1224 232.5h2M992 245.5h2M1201 245.5h2M245 327.5h4M253 327.5h4M217 342.5h2M338 342.5h2M1007 252.5h3M1191 252.5h2M210 347.5h2M869 203.5h4M917 203.5h4M274 334.5h5M1170 261.5h3M1298 177.5h3M829 228.5h2M143 377.5h2M444 377.5h2M685 377.5h2M1422 140.5h2M1479 107.5h2M1602 107.5h3M853 211.5h2M938 211.5h2M859 207.5h2M930 207.5h2M1391 152.5h3M189 352.5h4M866 204.5h3M921 204.5h4M173 355.5h4M359 355.5h2M1381 156.5h2M1013 254.5h2M1188 254.5h2M984 241.5h2M1207 241.5h2M1041 270.5h2M1153 270.5h2M986 242.5h2M861 206.5h2M927 206.5h3M367 359.5h3M977 237.5h2M1214 237.5h2M1613 110.5h2M1212 238.5h2M82 400.5h3M111 400.5h3M1468 114.5h2M1625 114.5h4M1222 233.5h2M1050 275.5h2M1143 275.5h3M1383 155.5h3M207 348.5h3M348 348.5h2M1433 134.5h2M1306 174.5h3M1275 186.5h2M1399 149.5h3M474 384.5h2M661 384.5h4M410 373.5h3M1415 143.5h3M1036 267.5h2M1031 264.5h2M1163 264.5h2M1263 196.5h2M1025 260.5h2M1173 260.5h2M1440 130.5h2M237 330.5h2M263 330.5h3M1458 120.5h2M1465 116.5h2M1633 116.5h4M1402 148.5h3M1442 129.5h2M1010 253.5h3M1485 104.5h2M1596 104.5h2M1621 113.5h4M1056 278.5h2M1135 278.5h3M1151 271.5h2M1410 145.5h3M1377 157.5h4M982 240.5h2M1209 240.5h2M29 364.5h2M381 364.5h2M233 332.5h2M269 332.5h2M941 213.5h2M1483 105.5h2M1598 105.5h2M844 217.5h2M1629 115.5h4M231 333.5h2M271 333.5h3M1386 154.5h3M1494 100.5h2M1586 100.5h3M951 220.5h2M1285 182.5h2M1438 131.5h2M235 331.5h2M266 331.5h3M413 374.5h2M329 339.5h4M1481 106.5h2M1600 106.5h2M1354 162.5h3M1028 262.5h2M1167 262.5h3M397 368.5h2M407 372.5h3M1456 121.5h2M1389 153.5h2M998 248.5h2M1197 248.5h2M68 392.5h2M489 392.5h2M618 392.5h5M1282 183.5h3M41 370.5h2M402 370.5h3M85 401.5h4M109 401.5h2M1407 146.5h3M1428 137.5h2M1342 167.5h2M1492 101.5h2M1589 101.5h2M1490 102.5h2M1591 102.5h3M1418 142.5h2M1349 164.5h2M1178 258.5h3M990 244.5h2M1447 126.5h2M1303 175.5h3M1231 227.5h2M1293 179.5h2M1454 122.5h2M1436 132.5h2M1420 141.5h2M1351 163.5h3M1444 128.5h2M1397 150.5h2M1340 168.5h2M1271 189.5h2M1290 180.5h3M701.5 365v1M57.5 383v1M137.5 383v1M944.5 215v1M1244.5 215v1M968.5 231v1M703.5 362v2M769.5 287v1M70.5 393v1M219.5 341v1M723.5 341v1M791.5 263v1M1030.5 263v1M75.5 396v1M52.5 379v1M141.5 379v1M775.5 280v2M1260.5 199v1M759.5 299v1M727.5 336v2M771.5 285v1M803.5 250v1M1195.5 250v1M728.5 335v1M1200.5 246v1M154.5 367v1M699.5 367v1M795.5 259v1M806.5 247v1M1199.5 247v1M754.5 305v1M1251.5 208v1M811.5 243v1M832.5 226v1M1233.5 226v1M1211.5 239v1M735.5 328v1M856.5 209v1M1250.5 209v1M155.5 366v1M700.5 366v1M67.5 391v1M138.5 382v1M776.5 279v1M855.5 210v1M1249.5 210v1M804.5 249v1M1196.5 249v1M163.5 361v1M704.5 361v1M712.5 353v1M59.5 385v1M135.5 385v1M719.5 345v2M358.5 354v1M711.5 354v1M1258.5 201v1M797.5 257v1M63.5 388v1M132.5 388v1M1259.5 200v1M43.5 371v1M150.5 371v1M695.5 371v1M773.5 283v1M737.5 326v1M819.5 236v1M753.5 306v2M783.5 271v2M1150.5 272v1M146.5 375v1M843.5 218v1M1241.5 218v1M781.5 274v1M950.5 219v1M1240.5 219v1M118.5 397v1M778.5 277v1M782.5 273v1M785.5 269v1M1155.5 269v1M212.5 346v1M1262.5 197v1M54.5 381v1M139.5 381v1M734.5 329v1M227.5 336v1M839.5 221v1M1238.5 221v1M1261.5 198v1M1254.5 205v1M772.5 284v1M707.5 358v1M726.5 338v1M1269.5 191v1M714.5 351v1M846.5 216v1M1243.5 216v1M789.5 265v1M49.5 376v1M145.5 376v1M788.5 266v1M1035.5 266v1M216.5 343v1M721.5 343v1M724.5 340v1M64.5 389v1M131.5 389v1M786.5 268v1M1038.5 268v1M53.5 380v1M140.5 380v1M799.5 254v2M715.5 350v1M708.5 357v1M152.5 369v1M697.5 369v1M51.5 378v1M142.5 378v1M133.5 387v1M828.5 229v1M1229.5 229v1M774.5 282v1M1234.5 225v1M705.5 360v1M709.5 356v1M943.5 214v1M1245.5 214v1M836.5 223v1M1236.5 223v1M486.5 390v1M1478.5 108v1M1451.5 124v1M350.5 349v1M716.5 349v1M955.5 222v1M1237.5 222v1M820.5 235v1M974.5 235v1M752.5 308v1M770.5 286v1M779.5 276v1M747.5 314v1M802.5 251v1M60.5 386v1M134.5 386v1M1462.5 118v1M1257.5 202v1M763.5 294v1M798.5 256v1M758.5 300v1M123.5 394v1M824.5 232v1M809.5 245v1M1266.5 194v1M736.5 327v1M722.5 342v1M801.5 252v1M347.5 347v1M718.5 347v1M1256.5 203v1M741.5 321v2M230.5 334v1M729.5 334v1M757.5 301v2M793.5 261v1M1027.5 261v1M738.5 325v1M964.5 228v1M1230.5 228v1M50.5 377v1M1248.5 211v1M1252.5 207v1M355.5 352v1M713.5 352v1M1255.5 204v1M710.5 355v1M813.5 241v1M784.5 270v1M812.5 242v1M1206.5 242v1M1253.5 206v1M166.5 359v1M706.5 359v1M818.5 237v1M1475.5 110v1M817.5 238v1M979.5 238v1M823.5 233v1M971.5 233v1M780.5 275v1M717.5 348v1M58.5 384v1M136.5 384v1M45.5 373v1M148.5 373v1M693.5 373v1M787.5 267v1M1158.5 267v1M790.5 264v1M215.5 344v1M342.5 344v1M720.5 344v1M751.5 309v1M852.5 212v1M940.5 212v1M1247.5 212v1M767.5 289v2M746.5 315v1M794.5 260v1M762.5 295v1M733.5 330v1M1270.5 190v1M835.5 224v1M958.5 224v1M1235.5 224v1M800.5 253v1M1190.5 253v1M1470.5 113v1M777.5 278v1M1043.5 271v1M814.5 240v1M158.5 364v1M702.5 364v1M731.5 332v1M827.5 230v1M967.5 230v1M1228.5 230v1M851.5 213v1M1246.5 213v1M947.5 217v1M1242.5 217v1M1467.5 115v1M730.5 333v1M739.5 324v1M755.5 304v1M750.5 310v1M840.5 220v1M1239.5 220v1M732.5 331v1M46.5 374v1M147.5 374v1M692.5 374v1M222.5 339v1M725.5 339v1M792.5 262v1M38.5 368v1M153.5 368v1M698.5 368v1M768.5 288v1M44.5 372v1M149.5 372v1M694.5 372v1M745.5 316v2M740.5 323v1M805.5 248v1M126.5 392v1M743.5 319v1M151.5 370v1M696.5 370v1M1267.5 193v1M1274.5 187v1M1430.5 136v1M761.5 296v2M756.5 303v1M744.5 318v1M796.5 258v1M1022.5 258v1M810.5 244v1M1203.5 244v1M831.5 227v1M963.5 227v1M749.5 311v2M760.5 298v1M1268.5 192v1M1265.5 195v1M766.5 291v1M742.5 320v1M748.5 313v1M764.5 293v1M1273.5 188v1M1435.5 133v1M765.5 292v1M1446.5 127v1" fill="none" stroke="#ffa500" stroke-width="1"/>
<path d="M1617 126.5h14M31 246.5h2M1103 246.5h8M1381 220.5h2M601 374.5h4M706 374.5h2M26 243.5h2M1127 243.5h24M1183 243.5h8M7 231.5h2M1279 231.5h32M1337 231.5h6M357 363.5h4M407 363.5h8M453 363.5h4M495 363.5h8M535 363.5h6M735 363.5h3M1399 210.5h2M1257 234.5h6M583 371.5h8M712 371.5h2M1087 248.5h8M1057 255.5h4M361 364.5h4M399 364.5h8M457 364.5h6M479 364.5h16M541 364.5h4M733 364.5h2M218 348.5h3M784 348.5h2M210 344.5h2M792 344.5h2M1573 138.5h2M55 264.5h2M1021 264.5h4M1241 237.5h6M1418 200.5h2M175 329.5h3M826 329.5h3M237 354.5h4M769 354.5h4M345 361.5h6M423 361.5h8M439 361.5h8M511 361.5h16M741 361.5h4M945 281.5h6M24 242.5h2M1191 242.5h32M9 232.5h2M1271 232.5h8M1311 232.5h16M1333 232.5h4M181 331.5h2M821 331.5h2M369 366.5h4M389 366.5h4M551 366.5h8M725 366.5h4M605 375.5h4M703 375.5h3M351 362.5h6M415 362.5h8M447 362.5h6M503 362.5h8M527 362.5h8M738 362.5h3M1263 233.5h8M1327 233.5h6M241 355.5h30M765 355.5h4M271 356.5h16M761 356.5h4M373 367.5h4M383 367.5h6M559 367.5h8M722 367.5h3M287 357.5h8M757 357.5h4M1383 219.5h3M61 269.5h2M1005 269.5h4M327 359.5h14M749 359.5h4M933 284.5h4M138 315.5h3M857 315.5h2M965 278.5h4M1518 156.5h2M221 349.5h2M782 349.5h2M647 381.5h40M212 345.5h2M790 345.5h2M204 341.5h2M798 341.5h2M341 360.5h4M431 360.5h8M745 360.5h4M65 272.5h2M993 272.5h4M959 279.5h6M1649 123.5h6M130 311.5h2M864 311.5h2M122 307.5h2M872 307.5h2M880 303.5h2M116 304.5h2M878 304.5h2M86 288.5h2M921 288.5h4M134 313.5h2M860 313.5h2M1018 265.5h3M1365 225.5h4M1631 125.5h14M981 275.5h4M1445 185.5h2M1474 172.5h3M1001 270.5h4M28 244.5h2M1119 244.5h8M1151 244.5h32M33 247.5h2M1095 247.5h8M1562 141.5h3M92 291.5h2M909 291.5h4M1111 245.5h8M365 365.5h4M393 365.5h6M463 365.5h16M545 365.5h6M729 365.5h4M1410 204.5h2M377 368.5h6M567 368.5h6M719 368.5h3M1406 206.5h2M191 335.5h3M812 335.5h2M1546 146.5h3M295 358.5h32M753 358.5h4M196 337.5h2M807 337.5h3M631 380.5h16M687 380.5h6M577 370.5h6M714 370.5h3M1509 160.5h2M104 297.5h2M893 297.5h2M1361 226.5h4M169 327.5h4M831 327.5h3M1665 120.5h3M1013 267.5h2M975 276.5h6M1077 250.5h4M1594 131.5h3M47 257.5h2M1049 257.5h4M20 240.5h2M1229 240.5h4M4 229.5h2M1349 229.5h4M1493 165.5h4M1553 144.5h4M98 294.5h2M901 294.5h2M1463 177.5h3M1065 253.5h4M102 296.5h2M895 296.5h3M223 350.5h3M780 350.5h2M1607 128.5h6M1053 256.5h4M1247 236.5h6M1538 149.5h3M202 340.5h2M800 340.5h2M1025 263.5h4M173 328.5h2M829 328.5h2M1525 153.5h4M1041 259.5h4M148 319.5h2M850 319.5h2M1434 190.5h2M1585 134.5h4M126 309.5h2M868 309.5h2M143 317.5h3M1029 262.5h4M136 314.5h2M1485 168.5h2M128 310.5h2M866 310.5h2M120 306.5h2M874 306.5h2M1454 181.5h2M108 299.5h2M888 299.5h2M573 369.5h4M717 369.5h2M1529 152.5h4M146 318.5h2M852 318.5h2M165 326.5h4M834 326.5h3M1557 143.5h2M157 323.5h2M842 323.5h2M1378 221.5h3M214 346.5h2M788 346.5h2M1514 158.5h2M1575 137.5h3M951 280.5h8M1569 139.5h4M88 289.5h2M917 289.5h4M100 295.5h2M898 295.5h3M1559 142.5h3M1442 186.5h3M17 238.5h2M1237 238.5h4M1233 239.5h4M71 277.5h2M969 277.5h6M118 305.5h2M876 305.5h2M233 353.5h4M773 353.5h2M621 378.5h4M695 378.5h3M159 324.5h3M839 324.5h3M591 372.5h6M710 372.5h2M84 287.5h2M925 287.5h2M1645 124.5h4M1425 195.5h2M1369 224.5h4M1506 161.5h3M1357 227.5h4M1386 218.5h2M13 235.5h2M1253 235.5h4M1408 205.5h2M1661 121.5h4M22 241.5h2M1223 241.5h6M597 373.5h4M708 373.5h2M1578 136.5h3M216 347.5h2M786 347.5h2M208 343.5h2M794 343.5h2M1601 129.5h6M1597 130.5h4M625 379.5h6M693 379.5h2M1591 132.5h3M36 249.5h2M1081 249.5h6M1497 164.5h4M937 283.5h4M124 308.5h2M870 308.5h2M1401 209.5h2M113 302.5h2M882 302.5h2M106 298.5h2M890 298.5h3M111 301.5h2M884 301.5h2M77 282.5h2M941 282.5h4M1581 135.5h4M81 285.5h2M930 285.5h3M1343 230.5h6M1482 169.5h3M989 273.5h4M1472 173.5h2M94 292.5h2M906 292.5h3M985 274.5h4M1549 145.5h4M194 336.5h2M810 336.5h2M206 342.5h2M796 342.5h2M198 338.5h2M805 338.5h2M1391 215.5h2M183 332.5h3M818 332.5h3M41 252.5h2M1069 252.5h4M1033 261.5h4M997 271.5h4M39 251.5h2M1073 251.5h4M152 321.5h2M846 321.5h2M1061 254.5h4M226 351.5h3M778 351.5h2M1037 260.5h4M162 325.5h3M837 325.5h2M150 320.5h2M848 320.5h2M1432 191.5h2M1353 228.5h4M1452 182.5h2M886 300.5h2M1015 266.5h3M1416 201.5h2M609 376.5h6M701 376.5h2M1412 203.5h2M1516 157.5h2M189 334.5h2M814 334.5h2M90 290.5h2M913 290.5h4M615 377.5h6M698 377.5h3M96 293.5h2M903 293.5h3M1655 122.5h6M200 339.5h2M802 339.5h3M1503 162.5h3M1535 150.5h3M1461 178.5h2M1447 184.5h3M178 330.5h3M823 330.5h3M1565 140.5h4M927 286.5h3M1450 183.5h2M1396 212.5h2M1470 174.5h2M1440 187.5h2M1589 133.5h2M1613 127.5h4M1520 155.5h2M1487 167.5h3M229 352.5h4M775 352.5h3M1533 151.5h2M1522 154.5h3M1430 192.5h2M1375 222.5h3M1479 170.5h3M186 333.5h3M816 333.5h2M1414 202.5h2M154 322.5h3M844 322.5h2M141 316.5h2M855 316.5h2M1541 148.5h2M1393 214.5h2M1436 189.5h2M1421 198.5h2M1501 163.5h2M1438 188.5h2M1458 179.5h3M1404 207.5h2M1388 217.5h2M1490 166.5h3M1373 223.5h2M1009 268.5h4M1468 175.5h2M1543 147.5h3M1511 159.5h3M1045 258.5h4M1477 171.5h2M132 312.5h2M862 312.5h2M1456 180.5h2M1428 193.5h2M1466 176.5h2M12.5 234v1M35.5 248v1M45.5 255v1M16.5 237v1M76.5 281v1M11.5 233v1M80.5 284v1M73.5 278v1M74.5 279v1M115.5 303v1M57.5 265v1M69.5 275v1M63.5 270v1M30.5 245v1M1390.5 216v1M59.5 267v1M70.5 276v1M38.5 250v1M43.5 253v1M46.5 256v1M15.5 236v1M54.5 263v1M50.5 259v1M854.5 317v1M53.5 262v1M859.5 314v1M75.5 280v1M1427.5 194v1M19.5 239v1M79.5 283v1M6.5 230v1M1424.5 196v1M67.5 273v1M68.5 274v1M52.5 261v1M64.5 271v1M44.5 254v1M51.5 260v1M3.5 228v1M1398.5 211v1M110.5 300v1M58.5 266v1M1423.5 197v1M1395.5 213v1M83.5 286v1M60.5 268v1M1403.5 208v1M49.5 258v1M1420.5 199v1" fill="none" stroke="#ff00ff" stroke-width="1"/>
<rect x="3" y="37" width="1682" height="2" fill="#ff0000"/>
<rect x="3" y="138" width="1682" height="2" fill="#32cd32"/>
<rect x="3" y="265" width="1682" height="2" fill="#4169e1"/>
<rect x="3" y="341" width="1682" height="2" fill="#4169e1"/>
<rect x="3" y="443" width="1682" height="2" fill="#4169e1"/>
<g fill="#c0c0c0">
<rect x="3" y="587" width="1" height="65"/>
<rect x="11" y="587" width="1" height="54"/>
<rect x="19" y="587" width="1" height="45"/>
<rect x="27" y="587" width="1" height="40"/>
<rect x="35" y="587" width="1" height="34"/>
<rect x="43" y="587" width="1" height="35"/>
<rect x="51" y="587" width="1" height="42"/>
<rect x="59" y="587" width="1" height="45"/>
<rect x="67" y="587" width="1" height="44"/>
<rect x="75" y="587" width="1" height="42"/>
<rect x="83" y="587" width="1" height="36"/>
<rect x="91" y="587" width="1" height="29"/>
<rect x="99" y="587" width="1" height="19"/>
<rect x="107" y="587" width="1" height="10"/>
<rect x="115" y="587" width="1" height="5"/>
<rect x="123" y="587" width="1" height="1"/>
<rect x="131" y="587" width="1" height="1"/>
<rect x="139" y="587" width="1" height="1"/>
<rect x="147" y="582" width="1" height="6"/>
<rect x="155" y="578" width="1" height="10"/>
<rect x="163" y="573" width="1" height="15"/>
<rect x="171" y="566" width="1" height="22"/>
<rect x="179" y="563" width="1" height="25"/>
<rect x="187" y="561" width="1" height="27"/>
<rect x="195" y="567" width="1" height="21"/>
<rect x="203" y="571" width="1" height="17"/>
<rect x="211" y="574" width="1" height="14"/>
<rect x="219" y="578" width="1" height="10"/>
<rect x="227" y="578" width="1" height="10"/>
<rect x="235" y="580" width="1" height="8"/>
<rect x="243" y="581" width="1" height="7"/>
<rect x="251" y="582" width="1" height="6"/>
<rect x="259" y="587" width="1" height="1"/>
<rect x="267" y="587" width="1" height="7"/>
<rect x="275" y="587" width="1" height="11"/>
<rect x="283" y="587" width="1" height="9"/>
<rect x="291" y="587" width="1" height="13"/>
<rect x="299" y="587" width="1" height="14"/>
<rect x="307" y="587" width="1" height="7"/>
<rect x="315" y="587" width="1" height="1"/>
<rect x="323" y="584" width="1" height="4"/>
<rect x="331" y="582" width="1" height="6"/>
<rect x="339" y="582" width="1" height="6"/>
<rect x="347" y="586" width="1" height="2"/>
<rect x="355" y="587" width="1" height="5"/>
<rect x="363" y="587" width="1" height="14"/>
<rect x="371" y="587" width="1" height="19"/>
<rect x="379" y="587" width="1" height="21"/>
<rect x="387" y="587" width="1" height="19"/>
<rect x="395" y="587" width="1" height="19"/>
<rect x="403" y="587" width="1" height="17"/>
<rect x="411" y="587" width="1" height="18"/>
<rect x="419" y="587" width="1" height="18"/>
<rect x="427" y="587" width="1" height="18"/>
<rect x="435" y="587" width="1" height="17"/>
<rect x="443" y="587" width="1" height="15"/>
<rect x="451" y="587" width="1" height="21"/>
<rect x="459" y="587" width="1" height="19"/>
<rect x="467" y="587" width="1" height="16"/>
<rect x="475" y="587" width="1" height="14"/>
<rect x="483" y="587" width="1" height="14"/>
<rect x="491" y="587" width="1" height="13"/>
<rect x="499" y="587" width="1" height="11"/>
<rect x="507" y="587" width="1" height="9"/>
<rect x="515" y="587" width="1" height="7"/>
<rect x="523" y="587" width="1" height="6"/>
<rect x="531" y="587" width="1" height="6"/>
<rect x="539" y="587" width="1" height="6"/>
<rect x="547" y="587" width="1" height="6"/>
<rect x="555" y="587" width="1" height="7"/>
<rect x="563" y="587" width="1" height="7"/>
<rect x="571" y="587" width="1" height="6"/>
<rect x="579" y="587" width="1" height="6"/>
<rect x="587" y="587" width="1" height="9"/>
<rect x="595" y="587" width="1" height="5"/>
<rect x="603" y="587" width="1" height="3"/>
<rect x="611" y="587" width="1" height="2"/>
<rect x="619" y="587" width="1" height="1"/>
<rect x="627" y="586" width="1" height="2"/>
<rect x="635" y="585" width="1" height="3"/>
<rect x="643" y="584" width="1" height="4"/>
<rect x="651" y="581" width="1" height="7"/>
<rect x="659" y="578" width="1" height="10"/>
<rect x="667" y="576" width="1" height="12"/>
<rect x="675" y="573" width="1" height="15"/>
<rect x="683" y="570" width="1" height="18"/>
<rect x="691" y="566" width="1" height="22"/>
<rect x="699" y="554" width="1" height="34"/>
<rect x="707" y="545" width="1" height="43"/>
<rect x="715" y="538" width="1" height="50"/>
<rect x="723" y="533" width="1" height="55"/>
<rect x="731" y="530" width="1" height="58"/>
<rect x="739" y="528" width="1" height="60"/>
<rect x="747" y="526" width="1" height="62"/>
<rect x="755" y="524" width="1" height="64"/>
<rect x="763" y="523" width="1" height="65"/>
<rect x="771" y="523" width="1" height="65"/>
<rect x="779" y="522" width="1" height="66"/>
<rect x="787" y="523" width="1" height="65"/>
<rect x="795" y="526" width="1" height="62"/>
<rect x="803" y="530" width="1" height="58"/>
<rect x="811" y="534" width="1" height="54"/>
<rect x="819" y="538" width="1" height="50"/>
<rect x="827" y="542" width="1" height="46"/>
<rect x="835" y="544" width="1" height="44"/>
<rect x="843" y="547" width="1" height="41"/>
<rect x="851" y="549" width="1" height="39"/>
<rect x="859" y="550" width="1" height="38"/>
<rect x="867" y="550" width="1" height="38"/>
<rect x="875" y="549" width="1" height="39"/>
<rect x="883" y="547" width="1" height="41"/>
<rect x="891" y="549" width="1" height="39"/>
<rect x="899" y="558" width="1" height="30"/>
<rect x="907" y="564" width="1" height="24"/>
<rect x="915" y="570" width="1" height="18"/>
<rect x="923" y="576" width="1" height="12"/>
<rect x="931" y="580" width="1" height="8"/>
<rect x="939" y="587" width="1" height="1"/>
<rect x="947" y="587" width="1" height="4"/>
<rect x="955" y="587" width="1" height="12"/>
<rect x="963" y="587" width="1" height="17"/>
<rect x="971" y="587" width="1" height="21"/>
<rect x="979" y="587" width="1" height="26"/>
<rect x="987" y="587" width="1" height="28"/>
<rect x="995" y="587" width="1" height="27"/>
<rect x="1003" y="587" width="1" height="25"/>
<rect x="1011" y="587" width="1" height="22"/>
<rect x="1019" y="587" width="1" height="20"/>
<rect x="1027" y="587" width="1" height="17"/>
<rect x="1035" y="587" width="1" height="16"/>
<rect x="1043" y="587" width="1" height="14"/>
<rect x="1051" y="587" width="1" height="11"/>
<rect x="1059" y="587" width="1" height="8"/>
<rect x="1067" y="587" width="1" height="7"/>
<rect x="1075" y="587" width="1" height="6"/>
<rect x="1083" y="587" width="1" height="8"/>
<rect x="1091" y="587" width="1" height="10"/>
<rect x="1099" y="587" width="1" height="9"/>
<rect x="1107" y="587" width="1" height="7"/>
<rect x="1115" y="587" width="1" height="5"/>
<rect x="1123" y="587" width="1" height="1"/>
<rect x="1131" y="587" width="1" height="1"/>
<rect x="1139" y="585" width="1" height="3"/>
<rect x="1147" y="584" width="1" height="4"/>
<rect x="1155" y="578" width="1" height="10"/>
<rect x="1163" y="575" width="1" height="13"/>
<rect x="1171" y="573" width="1" height="15"/>
<rect x="1179" y="571" width="1" height="17"/>
<rect x="1187" y="567" width="1" height="21"/>
<rect x="1195" y="560" width="1" height="28"/>
<rect x="1203" y="557" width="1" height="31"/>
<rect x="1211" y="555" width="1" height="33"/>
<rect x="1219" y="553" width="1" height="35"/>
<rect x="1227" y="551" width="1" height="37"/>
<rect x="1235" y="547" width="1" height="41"/>
<rect x="1243" y="544" width="1" height="44"/>
<rect x="1251" y="541" width="1" height="47"/>
<rect x="1259" y="540" width="1" height="48"/>
<rect x="1267" y="541" width="1" height="47"/>
<rect x="1275" y="543" width="1" height="45"/>
<rect x="1283" y="549" width="1" height="39"/>
<rect x="1291" y="556" width="1" height="32"/>
<rect x="1299" y="562" width="1" height="26"/>
<rect x="1307" y="566" width="1" height="22"/>
<rect x="1315" y="568" width="1" height="20"/>
<rect x="1323" y="572" width="1" height="16"/>
<rect x="1331" y="575" width="1" height="13"/>
<rect x="1339" y="576" width="1" height="12"/>
<rect x="1347" y="575" width="1" height="13"/>
<rect x="1355" y="572" width="1" height="16"/>
<rect x="1363" y="569" width="1" height="19"/>
<rect x="1371" y="568" width="1" height="20"/>
<rect x="1379" y="566" width="1" height="22"/>
<rect x="1387" y="561" width="1" height="27"/>
<rect x="1395" y="556" width="1" height="32"/>
<rect x="1403" y="552" width="1" height="36"/>
<rect x="1411" y="547" width="1" height="41"/>
<rect x="1419" y="543" width="1" height="45"/>
<rect x="1427" y="540" width="1" height="48"/>
<rect x="1435" y="538" width="1" height="50"/>
<rect x="1443" y="539" width="1" height="49"/>
<rect x="1451" y="544" width="1" height="44"/>
<rect x="1459" y="549" width="1" height="39"/>
<rect x="1467" y="551" width="1" height="37"/>
<rect x="1475" y="552" width="1" height="36"/>
<rect x="1483" y="556" width="1" height="32"/>
<rect x="1491" y="560" width="1" height="28"/>
<rect x="1499" y="566" width="1" height="22"/>
<rect x="1507" y="570" width="1" height="18"/>
<rect x="1515" y="572" width="1" height="16"/>
<rect x="1523" y="576" width="1" height="12"/>
<rect x="1531" y="581" width="1" height="7"/>
<rect x="1539" y="582" width="1" height="6"/>
<rect x="1547" y="584" width="1" height="4"/>
<rect x="1555" y="585" width="1" height="3"/>
<rect x="1563" y="583" width="1" height="5"/>
<rect x="1571" y="583" width="1" height="5"/>
<rect x="1579" y="582" width="1" height="6"/>
<rect x="1587" y="581" width="1" height="7"/>
<rect x="1595" y="583" width="1" height="5"/>
<rect x="1603" y="585" width="1" height="3"/>
<rect x="1611" y="586" width="1" height="2"/>
<rect x="1619" y="587" width="1" height="1"/>
<rect x="1627" y="587" width="1" height="5"/>
<rect x="1635" y="587" width="1" height="9"/>
<rect x="1643" y="587" width="1" height="7"/>
<rect x="1651" y="587" width="1" height="4"/>
<rect x="1659" y="587" width="1" height="1"/>
<rect x="1667" y="586" width="1" height="2"/>
</g>
<path d="M135 605.5h2M423 605.5h3M429 605.5h2M441 605.5h3M447 605.5h3M453 605.5h3M459 605.5h3M465 605.5h3M1005 605.5h2M1059 605.5h2M555 595.5h3M861 540.5h2M1251 552.5h2M1317 552.5h2M1432 552.5h2M879 545.5h3M885 545.5h2M1275 545.5h3M1281 545.5h3M1287 545.5h3M1293 545.5h2M1455 545.5h2M1479 545.5h3M1414 560.5h2M1522 560.5h2M1263 547.5h3M1491 547.5h3M922 556.5h2M1239 556.5h3M159 590.5h2M345 590.5h3M351 590.5h3M357 590.5h3M363 590.5h3M369 590.5h3M633 590.5h3M1149 590.5h2M315 593.5h3M327 593.5h2M579 593.5h3M591 593.5h3M597 593.5h3M603 593.5h3M1125 593.5h3M195 572.5h2M249 572.5h3M700 572.5h2M1198 572.5h2M34 650.5h2M507 601.5h3M994 601.5h2M1071 601.5h3M916 553.5h2M489 603.5h3M999 603.5h3M291 588.5h2M651 588.5h2M1653 588.5h2M1209 568.5h3M1353 568.5h3M519 599.5h3M525 599.5h2M1083 599.5h3M393 596.5h3M537 596.5h3M543 596.5h3M549 596.5h2M1107 596.5h2M1162 586.5h2M1641 586.5h3M172 582.5h2M675 582.5h2M1599 582.5h3M1605 582.5h3M1611 582.5h3M663 584.5h3M1623 584.5h3M1629 584.5h2M303 592.5h3M309 592.5h2M333 592.5h2M381 592.5h2M609 592.5h3M615 592.5h3M621 592.5h2M1131 592.5h3M1137 592.5h3M741 546.5h2M891 546.5h2M1269 546.5h2M1299 546.5h2M1449 546.5h3M1485 546.5h3M279 585.5h3M658 585.5h2M969 585.5h2M1167 585.5h2M1635 585.5h3M1216 565.5h2M1533 565.5h3M207 569.5h3M213 569.5h3M219 569.5h3M225 569.5h3M706 569.5h2M1359 569.5h2M1383 569.5h3M1389 569.5h2M748 541.5h2M201 570.5h3M231 570.5h3M237 570.5h3M243 570.5h2M1203 570.5h2M1365 570.5h3M1371 570.5h3M1377 570.5h3M1546 570.5h2M730 554.5h2M1245 554.5h2M1510 554.5h2M1311 550.5h3M1437 550.5h2M724 557.5h2M1516 557.5h2M1552 573.5h2M717 562.5h2M639 589.5h3M645 589.5h2M1155 589.5h2M1659 589.5h3M1665 589.5h3M435 606.5h3M1053 606.5h2M909 551.5h3M1504 551.5h2M106 620.5h2M1186 578.5h2M1569 578.5h3M285 587.5h3M1647 587.5h2M771 529.5h2M831 529.5h2M1221 563.5h3M1407 563.5h2M1528 563.5h2M3 657.5h3M15 657.5h2M897 548.5h3M1305 548.5h3M1443 548.5h2M1497 548.5h3M153 594.5h2M321 594.5h3M387 594.5h2M561 594.5h3M567 594.5h3M573 594.5h2M585 594.5h3M1113 594.5h3M1119 594.5h3M837 531.5h3M777 527.5h3M903 549.5h2M1258 549.5h2M934 561.5h2M1228 561.5h2M1336 561.5h2M1324 555.5h2M1426 555.5h2M399 598.5h3M531 598.5h2M988 598.5h2M1089 598.5h3M183 577.5h2M261 577.5h2M687 577.5h3M1563 577.5h3M177 579.5h2M682 579.5h2M1575 579.5h3M1581 579.5h2M130 608.5h2M1017 608.5h3M411 602.5h2M495 602.5h3M501 602.5h2M1066 602.5h2M945 567.5h2M1396 567.5h2M1540 567.5h2M1023 609.5h2M1035 609.5h3M1041 609.5h3M268 580.5h2M1587 580.5h3M417 604.5h3M471 604.5h3M477 604.5h3M483 604.5h3M148 597.5h2M1095 597.5h3M1101 597.5h2M405 600.5h2M513 600.5h3M1077 600.5h3M795 524.5h3M801 524.5h3M1011 607.5h3M1047 607.5h3M850 536.5h2M52 639.5h2M873 544.5h3M1461 544.5h3M1467 544.5h3M1473 544.5h3M951 571.5h2M711 566.5h2M1347 566.5h2M298 591.5h2M339 591.5h3M375 591.5h3M627 591.5h3M1143 591.5h2M754 538.5h2M855 538.5h3M1179 581.5h2M1593 581.5h3M21 655.5h2M940 564.5h2M1342 564.5h2M1402 564.5h2M256 575.5h2M693 575.5h2M1192 575.5h2M1557 575.5h2M789 525.5h2M807 525.5h3M813 525.5h2M927 558.5h3M1234 558.5h2M1330 558.5h2M1419 558.5h2M274 583.5h2M669 583.5h3M1173 583.5h2M1617 583.5h3M93 625.5h2M9 658.5h3M825 528.5h3M58 636.5h2M190 574.5h2M844 533.5h2M87 626.5h3M1029 610.5h2M69 631.5h2M783 526.5h2M819 526.5h2M760 535.5h2M75 629.5h2M81 627.5h3M124 611.5h2M39 647.5h2M867 542.5h2M111 618.5h3M27 653.5h2M99 623.5h2M64 633.5h2M1055.5 605v1M389.5 595v1M551.5 595v1M983.5 595v1M1109.5 595v1M915.5 552v1M743.5 545v1M1271.5 545v1M933.5 560v1M1335.5 560v1M893.5 547v1M1301.5 547v1M1445.5 547v1M1425.5 556v1M1515.5 556v1M297.5 590v1M976.5 590v1M1145.5 590v1M155.5 593v1M311.5 593v1M383.5 593v1M575.5 593v1M981.5 593v1M953.5 572v1M1551.5 572v1M142.5 601v1M407.5 601v1M503.5 601v1M1247.5 553v1M1319.5 553v1M1431.5 553v1M1509.5 553v1M1233.5 559v1M1521.5 559v1M413.5 603v1M1065.5 603v1M647.5 588v1M1157.5 588v1M1649.5 588v1M947.5 568v1M1391.5 568v1M1395.5 568v1M1103.5 596v1M166.5 586v1M657.5 586v1M971.5 586v1M273.5 582v1M965.5 582v1M1175.5 582v1M1169.5 584v1M329.5 592v1M887.5 546v1M1295.5 546v1M167.5 585v1M1631.5 585v1M713.5 565v1M1401.5 565v1M1205.5 569v1M1545.5 569v1M863.5 541v1M705.5 570v1M1361.5 570v1M1323.5 554v1M736.5 550v1M905.5 550v1M1257.5 550v1M1503.5 550v1M1329.5 557v1M1421.5 557v1M699.5 573v1M1197.5 573v1M1227.5 562v1M1409.5 562v1M1527.5 562v1M161.5 589v1M293.5 589v1M975.5 589v1M1151.5 589v1M1655.5 589v1M431.5 606v1M1007.5 606v1M735.5 551v1M1253.5 551v1M179.5 578v1M263.5 578v1M165.5 587v1M653.5 587v1M1161.5 587v1M939.5 563v1M1341.5 563v1M869.5 543v1M57.5 637v1M982.5 594v1M767.5 531v1M821.5 527v1M737.5 549v1M1439.5 549v1M719.5 561v1M1413.5 561v1M729.5 555v1M921.5 555v1M147.5 598v1M527.5 598v1M959.5 577v1M267.5 579v1M1185.5 579v1M141.5 602v1M118.5 615v1M1349.5 567v1M129.5 609v1M1031.5 609v1M681.5 580v1M963.5 580v1M1181.5 580v1M1583.5 580v1M137.5 604v1M1061.5 604v1M533.5 597v1M987.5 597v1M143.5 600v1M993.5 600v1M791.5 524v1M759.5 536v1M1457.5 544v1M197.5 571v1M245.5 571v1M1215.5 566v1M1539.5 566v1M45.5 644v1M335.5 591v1M623.5 591v1M977.5 591v1M677.5 581v1M964.5 581v1M189.5 575v1M957.5 575v1M185.5 576v1M958.5 576v1M1191.5 576v1M1559.5 576v1M785.5 525v1M723.5 558v1M171.5 583v1M41.5 646v1M33.5 651v1M773.5 528v1M255.5 574v1M695.5 574v1M765.5 533v1M1025.5 610v1M815.5 526v1M849.5 535v1M105.5 621v1M753.5 539v1M47.5 642v1M101.5 622v1M17.5 656v1M747.5 542v1M833.5 530v1M77.5 628v1M123.5 612v1M119.5 614v1M46.5 643v1M766.5 532v1M843.5 532v1M29.5 652v1M95.5 624v1M117.5 616v1M71.5 630v1M63.5 634v1M23.5 654v1M51.5 640v1" fill="none" stroke="#ff0000" stroke-width="1"/>
<line x1="3" y1="710.5" x2="1684" y2="710.5" stroke="#c0c0c0" stroke-width="1" stroke-dasharray="3 3" stroke-dashoffset="-1"/>
<line x1="3" y1="764.5" x2="1684" y2="764.5" stroke="#c0c0c0" stroke-width="1" stroke-dasharray="3 3" stroke-dashoffset="-1"/>
<path d="M25 740.5h2M29 740.5h2M195 740.5h2M209 740.5h11M387 740.5h2M400 740.5h2M404 740.5h2M436 740.5h2M478 740.5h2M487 740.5h3M527 740.5h2M535 740.5h3M543 740.5h6M565 740.5h2M575 740.5h3M1010 740.5h5M1021 740.5h4M1029 740.5h2M1041 740.5h3M1293 740.5h2M1327 740.5h5M1499 740.5h4M1595 740.5h4M1605 740.5h2M729 702.5h2M735 702.5h8M1410 702.5h5M1421 702.5h2M27 741.5h2M385 741.5h2M389 741.5h2M398 741.5h2M431 741.5h5M480 741.5h2M485 741.5h2M529 741.5h2M533 741.5h2M549 741.5h4M559 741.5h6M578 741.5h2M906 741.5h2M1008 741.5h2M1015 741.5h6M1031 741.5h3M1037 741.5h4M1291 741.5h2M1521 741.5h2M1599 741.5h6M74 744.5h2M381 744.5h2M411 744.5h2M422 744.5h2M899 744.5h2M912 744.5h2M1002 744.5h2M1527 744.5h3M711 699.5h6M725 699.5h2M751 699.5h3M759 699.5h8M786 699.5h2M23 739.5h2M31 739.5h3M81 739.5h2M132 739.5h2M197 739.5h4M205 739.5h4M220 739.5h2M343 739.5h2M402 739.5h2M476 739.5h2M490 739.5h5M538 739.5h5M567 739.5h3M573 739.5h2M1025 739.5h4M1295 739.5h3M1323 739.5h4M1497 739.5h2M1503 739.5h6M1545 739.5h11M1607 739.5h3M70 746.5h2M293 746.5h2M351 746.5h2M417 746.5h3M917 746.5h4M997 746.5h2M1619 746.5h2M148 725.5h2M160 725.5h2M181 725.5h4M651 725.5h10M1347 725.5h2M166 722.5h2M174 722.5h2M671 722.5h5M819 722.5h2M1169 722.5h11M1354 722.5h3M1370 722.5h3M1471 722.5h3M168 721.5h2M172 721.5h2M676 721.5h2M821 721.5h4M844 721.5h2M1165 721.5h4M1357 721.5h2M1367 721.5h3M1373 721.5h2M1474 721.5h2M326 731.5h2M595 731.5h3M626 731.5h3M641 731.5h3M1120 731.5h2M1455 731.5h2M1581 731.5h2M1649 731.5h2M297 743.5h2M394 743.5h2M409 743.5h2M424 743.5h2M901 743.5h2M910 743.5h2M1004 743.5h2M1525 743.5h2M7 735.5h8M88 735.5h2M227 735.5h2M337 735.5h3M603 735.5h12M1049 735.5h2M1060 735.5h2M1109 735.5h4M1311 735.5h2M1317 735.5h2M64 749.5h2M263 749.5h3M271 749.5h5M586 749.5h2M1626 749.5h2M876 707.5h2M1239 707.5h3M1245 707.5h4M1253 707.5h4M1397 707.5h4M164 723.5h2M176 723.5h2M665 723.5h6M1351 723.5h3M1469 723.5h2M795 710.5h2M870 710.5h2M1262 710.5h2M1387 710.5h2M77 742.5h2M391 742.5h3M396 742.5h2M407 742.5h2M426 742.5h5M482 742.5h3M531 742.5h2M553 742.5h6M903 742.5h3M908 742.5h2M929 742.5h2M1006 742.5h2M1034 742.5h3M1523 742.5h2M60 751.5h2M259 751.5h2M358 751.5h2M369 751.5h3M943 751.5h3M1089 751.5h2M34 738.5h2M134 738.5h2M201 738.5h4M239 738.5h6M439 738.5h2M459 738.5h17M495 738.5h6M524 738.5h2M570 738.5h3M1045 738.5h2M1066 738.5h10M1287 738.5h2M1298 738.5h10M1321 738.5h2M1509 738.5h2M1517 738.5h2M1541 738.5h4M1610 738.5h2M805 713.5h4M861 713.5h4M1218 713.5h5M1268 713.5h2M20 737.5h2M84 737.5h2M136 737.5h2M223 737.5h2M233 737.5h6M245 737.5h4M441 737.5h3M501 737.5h4M519 737.5h5M1064 737.5h2M1099 737.5h4M1308 737.5h2M1511 737.5h3M1539 737.5h2M150 726.5h2M158 726.5h2M185 726.5h3M649 726.5h2M1130 726.5h3M680 719.5h2M848 719.5h2M1161 719.5h2M1362 719.5h3M1378 719.5h2M111 730.5h13M324 730.5h2M1122 730.5h2M1564 730.5h2M1583 730.5h3M1651 730.5h12M731 703.5h4M1408 703.5h2M1415 703.5h6M93 732.5h2M328 732.5h2M623 732.5h3M629 732.5h4M637 732.5h4M1118 732.5h2M1457 732.5h2M1483 732.5h2M1567 732.5h2M1577 732.5h4M52 756.5h2M961 756.5h6M986 756.5h2M743 701.5h6M1423 701.5h3M1431 701.5h5M152 727.5h2M156 727.5h2M1128 727.5h2M1133 727.5h2M330 733.5h3M599 733.5h2M621 733.5h2M633 733.5h4M1116 733.5h2M1485 733.5h4M1569 733.5h2M1573 733.5h4M97 729.5h2M103 729.5h8M307 729.5h17M645 729.5h2M1124 729.5h2M1138 729.5h5M1452 729.5h2M1586 729.5h2M1663 729.5h5M3 736.5h4M15 736.5h5M86 736.5h2M138 736.5h2M225 736.5h2M229 736.5h4M249 736.5h3M505 736.5h14M1062 736.5h2M1103 736.5h6M1335 736.5h2M1493 736.5h2M1514 736.5h2M687 715.5h2M856 715.5h2M1213 715.5h2M1272 715.5h2M90 734.5h2M333 734.5h4M601 734.5h2M615 734.5h6M1051 734.5h9M1113 734.5h3M1313 734.5h2M1489 734.5h3M1571 734.5h2M1645 734.5h2M880 705.5h2M1235 705.5h2M1404 705.5h2M57 753.5h2M362 753.5h3M939 753.5h2M1633 753.5h3M957 757.5h4M967 757.5h6M984 757.5h2M797 711.5h4M868 711.5h2M1264 711.5h2M689 714.5h2M809 714.5h3M858 714.5h3M1215 714.5h3M1270 714.5h2M975 759.5h3M980 759.5h2M66 748.5h2M266 748.5h5M375 748.5h2M1085 748.5h2M1623 748.5h3M801 712.5h4M865 712.5h3M1223 712.5h5M1266 712.5h2M874 708.5h2M1231 708.5h2M1242 708.5h3M1257 708.5h3M1393 708.5h4M749 700.5h2M1426 700.5h5M72 745.5h2M413 745.5h4M420 745.5h2M914 745.5h3M925 745.5h2M999 745.5h3M1530 745.5h2M68 747.5h2M377 747.5h2M921 747.5h3M995 747.5h2M1621 747.5h2M62 750.5h2M261 750.5h2M356 750.5h2M372 750.5h2M946 750.5h2M1628 750.5h2M360 752.5h2M365 752.5h4M451 752.5h2M941 752.5h2M1631 752.5h2M831 716.5h2M854 716.5h2M1156 716.5h2M1203 716.5h10M1274 716.5h2M721 697.5h3M773 697.5h4M781 697.5h2M170 720.5h2M678 720.5h2M825 720.5h3M846 720.5h2M1163 720.5h2M1359 720.5h3M1365 720.5h2M1375 720.5h3M162 724.5h2M178 724.5h3M661 724.5h4M1349 724.5h2M1467 724.5h2M682 718.5h2M850 718.5h2M1159 718.5h2M55 754.5h2M699 698.5h12M717 698.5h4M754 698.5h5M767 698.5h6M783 698.5h3M99 728.5h4M154 728.5h2M1126 728.5h2M1135 728.5h3M1143 728.5h5M684 717.5h2M852 717.5h2M882 704.5h2M1406 704.5h2M955 758.5h2M973 758.5h2M982 758.5h2M878 706.5h2M1237 706.5h2M1249 706.5h4M1401 706.5h3M872 709.5h2M1260 709.5h2M1389 709.5h4M777 696.5h4M978 760.5h2M37.5 740v2M80.5 740v1M131.5 740v1M253.5 739v2M281.5 739v2M286.5 740v2M300.5 740v2M345.5 740v1M445.5 740v2M458.5 739v2M591.5 739v3M898.5 740v3M1077.5 740v1M1097.5 740v2M1290.5 740v1M1520.5 740v1M1536.5 740v1M1613.5 740v1M1641.5 740v2M697.5 701v2M789.5 702v1M1436.5 702v2M79.5 741v1M254.5 741v2M280.5 741v1M346.5 741v1M406.5 741v1M457.5 741v2M931.5 741v1M1078.5 741v1M1535.5 741v1M1614.5 741v1M40.5 744v1M255.5 743v2M278.5 744v1M288.5 743v2M296.5 744v1M349.5 744v1M447.5 744v2M456.5 743v2M582.5 744v1M589.5 744v3M927.5 744v1M933.5 744v1M1081.5 744v1M1095.5 744v2M1532.5 744v1M1617.5 744v1M1639.5 744v3M698.5 699v2M36.5 739v1M130.5 739v1M194.5 738v2M285.5 739v1M301.5 738v2M438.5 739v1M444.5 738v2M526.5 739v1M897.5 737v3M1044.5 739v1M1076.5 739v1M1098.5 738v2M1289.5 739v1M1332.5 739v1M1519.5 739v1M1537.5 739v1M1594.5 738v2M1612.5 739v1M1642.5 738v2M41.5 745v2M256.5 745v2M277.5 745v2M290.5 746v2M379.5 746v1M448.5 746v2M455.5 745v2M583.5 745v2M924.5 746v1M934.5 745v2M1083.5 746v1M1094.5 746v2M146.5 725v2M893.5 725v3M1149.5 724v2M1279.5 724v3M1449.5 724v2M1466.5 725v1M1478.5 725v1M843.5 722v1M892.5 722v3M1151.5 721v2M1278.5 722v2M1448.5 722v2M1476.5 722v2M818.5 721v1M842.5 721v1M891.5 719v3M1180.5 721v1M1277.5 720v2M1447.5 720v2M95.5 731v1M124.5 731v1M142.5 731v2M190.5 731v2M306.5 730v2M895.5 731v3M1282.5 731v2M1341.5 731v1M1461.5 731v1M1482.5 730v2M1561.5 731v2M1566.5 731v1M1588.5 730v2M39.5 743v1M76.5 743v1M279.5 742v2M348.5 743v1M383.5 743v1M446.5 742v2M581.5 743v1M590.5 742v2M899.5 743v1M928.5 743v1M932.5 742v2M1080.5 743v1M1096.5 742v2M1533.5 743v1M1616.5 743v1M1640.5 742v2M127.5 735v1M140.5 734v2M192.5 734v2M303.5 735v2M593.5 734v3M896.5 734v3M1284.5 735v1M1337.5 735v1M1492.5 735v1M1558.5 735v1M1591.5 734v2M1644.5 735v1M44.5 749v1M258.5 749v2M355.5 749v1M374.5 749v1M449.5 748v2M453.5 749v2M936.5 748v2M993.5 749v1M1087.5 749v1M1093.5 748v2M1637.5 749v2M694.5 707v2M793.5 707v1M885.5 707v3M1192.5 707v1M1197.5 707v1M1233.5 707v1M1439.5 707v1M1150.5 723v1M693.5 709v2M886.5 710v1M1189.5 710v1M1199.5 710v1M1229.5 710v1M1441.5 710v1M38.5 742v1M287.5 742v1M299.5 742v1M347.5 742v1M384.5 742v1M580.5 742v1M1079.5 742v1M1534.5 742v1M1615.5 742v1M46.5 751v1M450.5 750v2M452.5 751v1M938.5 751v2M948.5 751v1M991.5 751v2M1092.5 750v2M1630.5 751v1M1636.5 751v2M22.5 738v1M83.5 738v1M129.5 737v2M222.5 738v1M252.5 737v2M282.5 737v2M284.5 737v2M342.5 738v1M592.5 737v2M1333.5 738v1M1496.5 738v1M1538.5 738v1M1556.5 738v1M691.5 713v1M835.5 713v1M887.5 711v3M1186.5 713v1M1201.5 713v1M1384.5 713v1M1443.5 713v1M193.5 736v2M302.5 737v1M341.5 737v1M1047.5 737v1M1286.5 737v1M1320.5 737v1M1334.5 737v1M1495.5 737v1M1516.5 737v1M1557.5 736v2M1593.5 737v1M1643.5 736v2M1148.5 726v2M1346.5 726v1M1450.5 726v2M1465.5 726v1M1479.5 726v2M816.5 719v1M828.5 719v1M840.5 719v1M1153.5 718v2M1181.5 719v2M1276.5 718v2M1446.5 718v2M96.5 730v1M143.5 730v1M189.5 729v2M595.5 730v1M644.5 730v1M894.5 728v3M1281.5 729v2M1342.5 730v1M1454.5 730v1M1462.5 730v1M1562.5 730v1M696.5 703v2M790.5 703v1M125.5 732v2M305.5 732v2M594.5 732v2M598.5 732v1M1340.5 732v1M1460.5 732v1M1589.5 732v1M1648.5 732v1M50.5 756v1M953.5 756v1M728.5 701v1M788.5 700v2M145.5 727v1M188.5 727v2M648.5 727v1M1280.5 727v2M1345.5 727v1M1464.5 727v1M92.5 733v1M141.5 733v1M191.5 733v1M1283.5 733v2M1315.5 733v1M1339.5 733v1M1459.5 733v1M1560.5 733v1M1590.5 733v1M1647.5 733v1M144.5 728v2M1343.5 729v1M1463.5 728v2M1481.5 729v1M1563.5 729v1M128.5 736v1M283.5 736v1M340.5 736v1M443.5 736v1M1048.5 736v1M1285.5 736v1M1310.5 736v1M1319.5 736v1M1592.5 736v1M812.5 715v1M833.5 715v1M837.5 715v1M889.5 715v3M1155.5 715v1M1185.5 714v2M1202.5 714v2M1383.5 714v2M1444.5 714v2M126.5 734v1M304.5 734v1M1316.5 734v1M1338.5 734v1M1559.5 734v1M695.5 705v2M791.5 704v2M883.5 705v1M1194.5 705v1M1196.5 705v2M1438.5 705v2M47.5 752v2M451.5 753v1M950.5 753v1M990.5 753v1M51.5 757v1M954.5 757v1M692.5 711v2M1188.5 711v1M1200.5 711v2M1228.5 711v1M1386.5 711v1M1442.5 711v2M834.5 714v1M836.5 714v1M888.5 714v1M43.5 748v1M257.5 747v2M276.5 747v2M291.5 748v1M354.5 748v1M454.5 747v2M585.5 748v1M588.5 747v2M994.5 748v1M1638.5 747v2M1187.5 712v1M1385.5 712v1M794.5 708v2M1191.5 708v1M1198.5 708v2M1440.5 708v2M727.5 700v1M289.5 745v1M295.5 745v1M350.5 745v1M380.5 745v1M1082.5 745v1M1618.5 745v1M42.5 747v1M292.5 747v1M353.5 747v1M584.5 747v1M935.5 747v1M1084.5 747v1M45.5 750v1M587.5 750v1M937.5 750v1M992.5 750v1M1088.5 750v1M59.5 752v1M949.5 752v1M1091.5 752v1M686.5 716v1M813.5 716v1M838.5 716v1M1154.5 716v2M1184.5 716v1M1382.5 716v1M1445.5 716v2M817.5 720v1M841.5 720v1M1152.5 720v1M147.5 724v1M1477.5 724v1M815.5 718v1M829.5 718v1M839.5 717v2M890.5 718v1M1182.5 718v1M1380.5 718v1M48.5 754v1M951.5 754v1M989.5 754v1M1635.5 754v1M724.5 698v1M647.5 728v1M1344.5 728v1M1451.5 728v1M1480.5 728v1M814.5 717v1M830.5 717v1M1158.5 717v1M1183.5 717v1M1275.5 717v1M1381.5 717v1M1195.5 704v1M1437.5 704v1M792.5 706v1M884.5 706v1M1193.5 706v1M1234.5 706v1M1190.5 709v1M1230.5 709v1M49.5 755v1M54.5 755v1M952.5 755v1M988.5 755v1" fill="none" stroke="#1e90ff" stroke-width="1"/>
<g fill="#000">
<rect x="2" y="1" width="1683" height="1"/>
<rect x="2" y="1" width="1" height="511"/>
<rect x="2" y="511" width="1683" height="1"/>
<rect x="2" y="513" width="1683" height="1"/>
<rect x="2" y="513" width="1" height="153"/>
<rect x="2" y="665" width="1683" height="1"/>
<rect x="2" y="667" width="1683" height="1"/>
<rect x="2" y="667" width="1" height="140"/>
<rect x="2" y="806" width="1683" height="1"/>
<rect x="1684" y="1" width="1" height="806"/>
<rect x="1685" y="13" width="2" height="1"/>
<rect x="1685" y="46" width="2" height="1"/>
<rect x="1685" y="79" width="2" height="1"/>
<rect x="1685" y="112" width="2" height="1"/>
<rect x="1685" y="145" width="2" height="1"/>
<rect x="1685" y="178" width="2" height="1"/>
<rect x="1685" y="211" width="2" height="1"/>
<rect x="1685" y="244" width="2" height="1"/>
<rect x="1685" y="277" width="2" height="1"/>
<rect x="1685" y="310" width="2" height="1"/>
<rect x="1685" y="343" width="2" height="1"/>
<rect x="1685" y="376" width="2" height="1"/>
<rect x="1685" y="409" width="2" height="1"/>
<rect x="1685" y="442" width="2" height="1"/>
<rect x="1685" y="475" width="2" height="1"/>
<rect x="1685" y="508" width="2" height="1"/>
<rect x="1685" y="587" width="2" height="1"/>
<rect x="1685" y="664" width="1" height="1"/>
<rect x="1685" y="669" width="1" height="1"/>
<rect x="1685" y="805" width="1" height="1"/>
<rect x="3" y="807" width="1" height="3"/>
<rect x="67" y="807" width="1" height="3"/>
<rect x="131" y="807" width="1" height="3"/>
<rect x="195" y="807" width="1" height="3"/>
<rect x="259" y="807" width="1" height="3"/>
<rect x="323" y="807" width="1" height="3"/>
<rect x="387" y="807" width="1" height="3"/>
<rect x="451" y="807" width="1" height="3"/>
<rect x="515" y="807" width="1" height="3"/>
<rect x="579" y="807" width="1" height="3"/>
<rect x="643" y="807" width="1" height="3"/>
<rect x="707" y="807" width="1" height="3"/>
<rect x="771" y="807" width="1" height="3"/>
<rect x="835" y="807" width="1" height="3"/>
<rect x="899" y="807" width="1" height="3"/>
<rect x="963" y="807" width="1" height="3"/>
<rect x="1027" y="807" width="1" height="3"/>
<rect x="1091" y="807" width="1" height="3"/>
<rect x="1155" y="807" width="1" height="3"/>
<rect x="1219" y="807" width="1" height="3"/>
<rect x="1283" y="807" width="1" height="3"/>
<rect x="1347" y="807" width="1" height="3"/>
<rect x="1411" y="807" width="1" height="3"/>
<rect x="1475" y="807" width="1" height="3"/>
<rect x="1539" y="807" width="1" height="3"/>
<rect x="1603" y="807" width="1" height="3"/>
<rect x="1667" y="807" width="1" height="3"/>
<rect x="6" y="8" width="7" height="1"/><rect x="7" y="9" width="5" height="1"/><rect x="8" y="10" width="3" height="1"/><rect x="9" y="11" width="1" height="1"/>
</g>
<rect x="3" y="37" width="1682" height="2" fill="#ff0000"/>
<rect x="3" y="138" width="1682" height="2" fill="#32cd32"/>
<rect x="3" y="265" width="1682" height="2" fill="#4169e1"/>
<rect x="3" y="341" width="1682" height="2" fill="#4169e1"/>
<rect x="3" y="443" width="1682" height="2" fill="#4169e1"/>
</svg>
<div class="t" id="x1" style="left:18px;top:5px;transform:scaleX(0.9379);">USOil-,H4  65.370 65.430 65.350 65.410</div>
<div class="t" id="x2" style="left:7px;top:518px;transform:scaleX(0.9389);">MACD(12,26,9) 0.0310 -0.0362</div>
<div class="t" id="x3" style="left:7px;top:672px;transform:scaleX(0.9265);">RSI(14) 55.8589</div>
<div class="t" id="x4" style="left:1690px;top:9px;transform:scaleX(0.9250);">66.985</div>
<div class="t" id="x5" style="left:1690px;top:42px;transform:scaleX(0.9250);">66.325</div>
<div class="t" id="x6" style="left:1690px;top:75px;transform:scaleX(0.9250);">65.680</div>
<div class="t" id="x7" style="left:1690px;top:108px;transform:scaleX(0.9250);">65.035</div>
<div class="t" id="x8" style="left:1690px;top:141px;transform:scaleX(0.9250);">64.390</div>
<div class="t" id="x9" style="left:1690px;top:174px;transform:scaleX(0.9250);">63.730</div>
<div class="t" id="x10" style="left:1690px;top:207px;transform:scaleX(0.9250);">63.085</div>
<div class="t" id="x11" style="left:1690px;top:240px;transform:scaleX(0.9250);">62.440</div>
<div class="t" id="x12" style="left:1690px;top:273px;transform:scaleX(0.9250);">61.780</div>
<div class="t" id="x13" style="left:1690px;top:306px;transform:scaleX(0.9250);">61.135</div>
<div class="t" id="x14" style="left:1690px;top:372px;transform:scaleX(0.9250);">59.830</div>
<div class="t" id="x15" style="left:1690px;top:405px;transform:scaleX(0.9250);">59.185</div>
<div class="t" id="x16" style="left:1690px;top:471px;transform:scaleX(0.9250);">57.880</div>
<div class="t" id="x17" style="left:1690px;top:504px;transform:scaleX(0.9250);">57.235</div>
<div class="t" id="x18" style="left:1689px;top:517px;transform:scaleX(0.9250);">1.0736</div>
<div class="t" id="x19" style="left:1689px;top:583px;transform:scaleX(0.9246);">0.00</div>
<div class="t" id="x20" style="left:1687.5px;top:654px;transform:scaleX(0.9080);">-1.1597</div>
<div class="t" id="x21" style="left:1688px;top:670px;transform:scaleX(0.8689);">100</div>
<div class="t" id="x22" style="left:1689px;top:706px;transform:scaleX(0.8989);">70</div>
<div class="t" id="x23" style="left:1689px;top:760px;transform:scaleX(0.8989);">30</div>
<div class="t" id="x24" style="left:1688px;top:795px;transform:scaleX(0.8989);">0</div>
<div class="bx" style="top:32px;background:#ff0000;"><div class="t" id="x25" style="left:4px;top:1px;transform:scaleX(0.9250);">66.500</div></div>
<div class="bx" style="top:88px;background:#000000;"><div class="t" id="x26" style="left:4px;top:1px;transform:scaleX(0.9250);">65.410</div></div>
<div class="bx" style="top:133px;background:#32cd32;"><div class="t" id="x27" style="left:4px;top:1px;transform:scaleX(0.9250);">64.500</div></div>
<div class="bx" style="top:260px;background:#4169e1;"><div class="t" id="x28" style="left:4px;top:1px;transform:scaleX(0.9250);">62.000</div></div>
<div class="bx" style="top:336px;background:#4169e1;"><div class="t" id="x29" style="left:4px;top:1px;transform:scaleX(0.9250);">60.500</div></div>
<div class="bx" style="top:438px;background:#4169e1;"><div class="t" id="x30" style="left:4px;top:1px;transform:scaleX(0.9250);">58.500</div></div>
<div class="t" id="x31" style="left:2px;top:811px;transform:scaleX(0.9082);">24 Mar 2021</div>
<div class="t" id="x32" style="left:66px;top:811px;transform:scaleX(0.9162);">25 Mar 20:00</div>
<div class="t" id="x33" style="left:130px;top:811px;transform:scaleX(0.9162);">29 Mar 00:00</div>
<div class="t" id="x34" style="left:194px;top:811px;transform:scaleX(0.9162);">30 Mar 08:00</div>
<div class="t" id="x35" style="left:258px;top:811px;transform:scaleX(0.9162);">31 Mar 16:00</div>
<div class="t" id="x36" style="left:322px;top:811px;transform:scaleX(0.9578);">4 Apr 23:00</div>
<div class="t" id="x37" style="left:386px;top:811px;transform:scaleX(0.9578);">6 Apr 04:00</div>
<div class="t" id="x38" style="left:450px;top:811px;transform:scaleX(0.9578);">7 Apr 12:00</div>
<div class="t" id="x39" style="left:514px;top:811px;transform:scaleX(0.9578);">8 Apr 20:00</div>
<div class="t" id="x40" style="left:578px;top:811px;transform:scaleX(0.9521);">12 Apr 00:00</div>
<div class="t" id="x41" style="left:642px;top:811px;transform:scaleX(0.9521);">13 Apr 08:00</div>
<div class="t" id="x42" style="left:706px;top:811px;transform:scaleX(0.9521);">14 Apr 16:00</div>
<div class="t" id="x43" style="left:770px;top:811px;transform:scaleX(0.9521);">16 Apr 00:00</div>
<div class="t" id="x44" style="left:834px;top:811px;transform:scaleX(0.9521);">19 Apr 04:00</div>
<div class="t" id="x45" style="left:898px;top:811px;transform:scaleX(0.9521);">20 Apr 12:00</div>
<div class="t" id="x46" style="left:962px;top:811px;transform:scaleX(0.9521);">21 Apr 20:00</div>
<div class="t" id="x47" style="left:1026px;top:811px;transform:scaleX(0.9521);">23 Apr 04:00</div>
<div class="t" id="x48" style="left:1090px;top:811px;transform:scaleX(0.9521);">26 Apr 08:00</div>
<div class="t" id="x49" style="left:1154px;top:811px;transform:scaleX(0.9521);">27 Apr 16:00</div>
<div class="t" id="x50" style="left:1218px;top:811px;transform:scaleX(0.9521);">29 Apr 00:00</div>
<div class="t" id="x51" style="left:1282px;top:811px;transform:scaleX(0.9521);">30 Apr 08:00</div>
<div class="t" id="x52" style="left:1346px;top:811px;transform:scaleX(0.9537);">3 May 12:00</div>
<div class="t" id="x53" style="left:1410px;top:811px;transform:scaleX(0.9537);">4 May 20:00</div>
<div class="t" id="x54" style="left:1474px;top:811px;transform:scaleX(0.9537);">6 May 04:00</div>
<div class="t" id="x55" style="left:1538px;top:811px;transform:scaleX(0.9537);">7 May 12:00</div>
<div class="t" id="x56" style="left:1602px;top:811px;transform:scaleX(0.9487);">10 May 16:00</div>
<div class="t" id="x57" style="left:1666px;top:811px;transform:scaleX(0.9606);">11 May 22:00</div>
<div id="note">多空转折点<span>64.5</span></div>
</div></body></html>
